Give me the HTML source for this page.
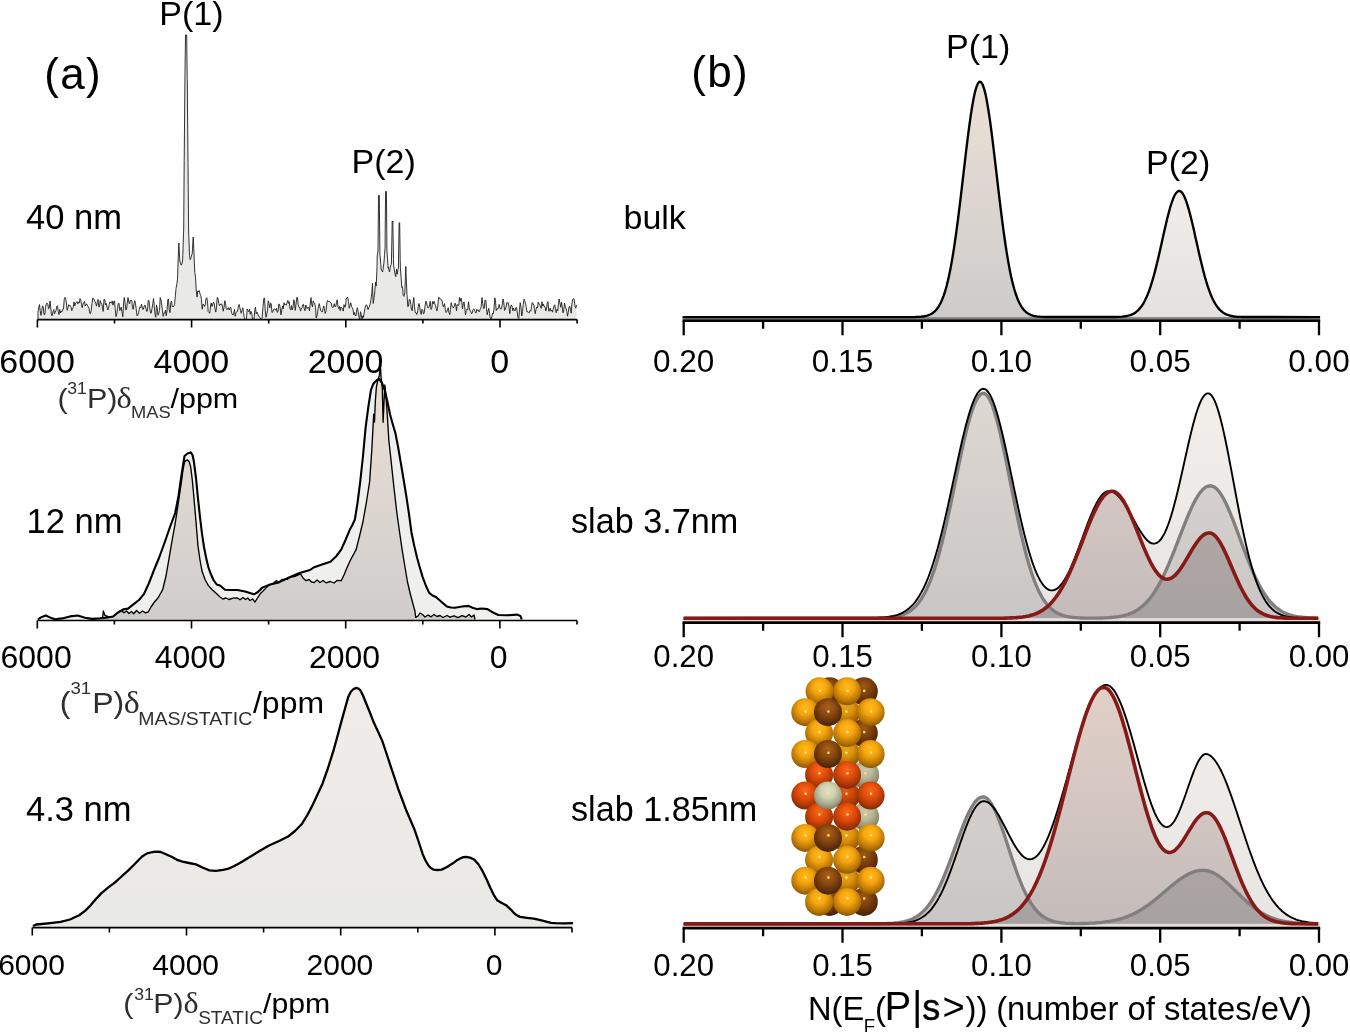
<!DOCTYPE html>
<html><head><meta charset="utf-8"><title>Figure</title>
<style>html,body{margin:0;padding:0;background:#fff}svg{display:block}text{font-family:"Liberation Sans", sans-serif}</style>
</head><body>
<svg width="1350" height="1034" viewBox="0 0 1350 1034">
<rect width="1350" height="1034" fill="#fff"/>
<defs>
<linearGradient id="gA" x1="0" y1="0" x2="0" y2="1"><stop offset="0" stop-color="#eadfd4"/><stop offset="0.5" stop-color="#ddd6d0"/><stop offset="1" stop-color="#cfcdcc"/></linearGradient>
<linearGradient id="gB" x1="0" y1="0" x2="0" y2="1"><stop offset="0" stop-color="#f0ede9"/><stop offset="1" stop-color="#e6e5e4"/></linearGradient>
<linearGradient id="gL" x1="0" y1="0" x2="0" y2="1"><stop offset="0" stop-color="#f0ece9"/><stop offset="1" stop-color="#e9e9e6"/></linearGradient>
<linearGradient id="gBlk" gradientUnits="userSpaceOnUse" x1="0" y1="0" x2="0" y2="1"><stop offset="0" stop-color="#f1eeea"/><stop offset="1" stop-color="#e9e7e6"/></linearGradient>

<radialGradient id="aY" cx="0.5" cy="0.40" r="0.66" fx="0.5" fy="0.30"><stop offset="0" stop-color="#ffba1c"/><stop offset="0.38" stop-color="#f5a50f"/><stop offset="0.72" stop-color="#bb7706"/><stop offset="1" stop-color="#744a03"/></radialGradient>
<radialGradient id="aB" cx="0.5" cy="0.40" r="0.66" fx="0.5" fy="0.30"><stop offset="0" stop-color="#ab611b"/><stop offset="0.38" stop-color="#8d4b10"/><stop offset="0.72" stop-color="#63310a"/><stop offset="1" stop-color="#3c1c05"/></radialGradient>
<radialGradient id="aR" cx="0.5" cy="0.40" r="0.66" fx="0.5" fy="0.30"><stop offset="0" stop-color="#f9681c"/><stop offset="0.38" stop-color="#e54f0a"/><stop offset="0.72" stop-color="#ad3706"/><stop offset="1" stop-color="#6c2103"/></radialGradient>
<radialGradient id="aW" cx="0.5" cy="0.40" r="0.66" fx="0.5" fy="0.30"><stop offset="0" stop-color="#e0e1c3"/><stop offset="0.38" stop-color="#d0d1b0"/><stop offset="0.72" stop-color="#a3a388"/><stop offset="1" stop-color="#6e6e58"/></radialGradient>
</defs>
<path d="M38.0,319.5 L38.0,311.8 L38.8,307.1 L39.5,304.6 L40.2,310.9 L41.0,315.4 L41.8,310.2 L42.5,306.0 L43.2,306.5 L44.0,314.6 L44.8,314.5 L45.5,307.5 L46.2,304.1 L47.0,303.1 L47.8,304.2 L48.5,308.8 L49.2,308.2 L50.0,301.0 L50.8,308.0 L51.5,315.3 L52.2,315.7 L53.0,311.5 L53.8,309.6 L54.5,313.8 L55.2,312.2 L56.0,310.4 L56.8,306.4 L57.5,305.7 L58.2,311.5 L59.0,314.6 L59.8,309.5 L60.5,313.0 L61.2,311.2 L62.0,311.8 L62.8,308.9 L63.5,309.0 L64.2,299.5 L65.0,297.5 L65.8,299.4 L66.5,304.0 L67.2,310.3 L68.0,307.3 L68.8,304.7 L69.5,305.9 L70.2,305.5 L71.0,307.1 L71.8,310.7 L72.5,308.1 L73.2,307.4 L74.0,301.9 L74.8,305.9 L75.5,303.1 L76.2,302.6 L77.0,301.4 L77.8,303.9 L78.5,302.0 L79.2,303.0 L80.0,298.6 L80.8,300.4 L81.5,304.3 L82.2,307.7 L83.0,304.0 L83.8,302.5 L84.5,301.4 L85.2,306.0 L86.0,304.3 L86.8,304.1 L87.5,306.0 L88.2,306.7 L89.0,308.0 L89.8,313.3 L90.5,313.7 L91.2,310.5 L92.0,303.5 L92.8,298.1 L93.5,298.4 L94.2,300.0 L95.0,301.7 L95.8,303.7 L96.5,306.1 L97.2,302.4 L98.0,299.4 L98.8,306.8 L99.5,306.8 L100.2,300.5 L101.0,303.2 L101.8,303.6 L102.5,307.9 L103.2,311.4 L104.0,299.3 L104.8,299.5 L105.5,304.8 L106.2,303.4 L107.0,306.6 L107.8,310.0 L108.5,308.4 L109.2,304.5 L110.0,301.8 L110.8,302.8 L111.5,303.1 L112.2,300.9 L113.0,305.2 L113.8,301.5 L114.5,300.9 L115.2,308.5 L116.0,316.6 L116.8,313.5 L117.5,308.8 L118.2,303.6 L119.0,303.2 L119.8,310.6 L120.5,309.4 L121.2,307.1 L122.0,311.8 L122.8,316.8 L123.5,305.1 L124.2,297.5 L125.0,302.2 L125.8,309.9 L126.5,309.5 L127.2,303.8 L128.0,297.5 L128.8,302.0 L129.5,304.0 L130.2,300.3 L131.0,301.1 L131.8,300.4 L132.5,307.8 L133.2,309.3 L134.0,304.0 L134.8,300.6 L135.5,303.6 L136.2,309.1 L137.0,315.9 L137.8,315.1 L138.5,312.8 L139.2,309.7 L140.0,306.8 L140.8,307.7 L141.5,304.2 L142.2,306.9 L143.0,309.6 L143.8,307.7 L144.5,305.4 L145.2,305.3 L146.0,309.0 L146.8,311.5 L147.5,310.5 L148.2,300.3 L149.0,300.7 L149.8,307.9 L150.5,312.9 L151.2,313.2 L152.0,308.5 L152.8,303.7 L153.5,298.5 L154.2,305.2 L155.0,314.0 L155.8,317.2 L156.5,304.9 L157.2,308.1 L158.0,315.2 L158.8,313.1 L159.5,310.4 L160.2,297.5 L161.0,299.8 L161.8,305.3 L162.5,311.1 L163.2,316.4 L164.0,312.8 L164.8,313.0 L165.5,310.0 L166.2,315.7 L167.0,311.0 L167.8,299.9 L168.5,298.9 L169.2,309.7 L170.0,312.7 L170.8,302.8 L171.5,301.0 L172.2,306.7 L173.0,306.6 L173.8,306.4 L174.5,304.8 L175.2,297.7 L176.0,288.6 L176.8,284.2 L177.5,279.2 L178.0,264.0 L178.2,257.9 L178.9,243.0 L179.0,245.7 L179.8,261.1 L179.8,261.0 L180.5,262.9 L181.2,265.2 L181.5,264.0 L182.0,263.8 L182.6,260.0 L182.8,255.3 L183.5,233.3 L183.7,230.0 L184.2,160.7 L184.9,83.0 L185.0,73.6 L185.5,35.0 L185.8,34.7 L186.5,35.3 L186.7,35.0 L187.2,78.7 L187.3,83.0 L188.0,162.5 L188.6,230.0 L188.8,235.5 L189.5,255.4 L189.6,256.0 L190.2,259.7 L190.5,259.0 L191.0,257.4 L191.8,254.7 L192.2,254.0 L192.5,248.8 L193.2,237.1 L193.3,238.5 L194.0,253.7 L194.3,262.0 L194.8,272.6 L195.5,277.1 L196.2,289.7 L197.0,297.1 L197.8,290.9 L198.5,291.7 L199.2,290.5 L200.0,293.9 L200.8,295.5 L201.5,299.9 L202.2,309.2 L203.0,304.1 L203.8,304.7 L204.5,306.5 L205.2,304.9 L206.0,298.8 L206.8,297.7 L207.5,301.7 L208.2,311.7 L209.0,312.6 L209.8,313.1 L210.5,306.0 L211.2,303.0 L212.0,306.5 L212.8,304.0 L213.5,302.1 L214.2,303.0 L215.0,308.8 L215.8,312.1 L216.5,306.9 L217.2,297.5 L218.0,298.2 L218.8,303.4 L219.5,305.6 L220.2,304.0 L221.0,304.6 L221.8,303.9 L222.5,307.1 L223.2,311.2 L224.0,307.2 L224.8,300.7 L225.5,303.6 L226.2,308.7 L227.0,309.7 L227.8,308.2 L228.5,307.9 L229.2,310.0 L230.0,307.7 L230.8,307.4 L231.5,312.3 L232.2,314.2 L233.0,315.0 L233.8,313.1 L234.5,309.3 L235.2,316.3 L236.0,312.5 L236.8,311.8 L237.5,311.5 L238.2,307.4 L239.0,304.4 L239.8,307.3 L240.5,310.7 L241.2,313.3 L242.0,310.2 L242.8,307.8 L243.5,312.7 L244.2,317.4 L245.0,319.1 L245.8,319.5 L246.5,318.2 L247.2,309.0 L248.0,310.4 L248.8,311.7 L249.5,309.1 L250.2,314.3 L251.0,311.4 L251.8,313.4 L252.5,319.5 L253.2,319.5 L254.0,319.4 L254.8,309.9 L255.5,307.1 L256.2,313.9 L257.0,312.1 L257.8,313.8 L258.5,316.2 L259.2,316.9 L260.0,317.4 L260.8,319.5 L261.5,319.5 L262.2,317.0 L263.0,306.7 L263.8,298.6 L264.5,297.9 L265.2,310.1 L266.0,317.3 L266.8,313.8 L267.5,310.3 L268.2,300.8 L269.0,303.6 L269.8,307.8 L270.5,303.1 L271.2,303.7 L272.0,312.6 L272.8,311.9 L273.5,309.5 L274.2,309.0 L275.0,309.2 L275.8,310.3 L276.5,308.4 L277.2,312.3 L278.0,311.7 L278.8,303.9 L279.5,304.5 L280.2,308.0 L281.0,314.9 L281.8,309.8 L282.5,306.2 L283.2,308.9 L284.0,302.7 L284.8,305.0 L285.5,304.5 L286.2,305.2 L287.0,302.7 L287.8,300.4 L288.5,303.4 L289.2,301.7 L290.0,309.2 L290.8,309.9 L291.5,305.7 L292.2,309.9 L293.0,307.2 L293.8,299.8 L294.5,301.4 L295.2,310.4 L296.0,304.4 L296.8,297.5 L297.5,297.5 L298.2,304.5 L299.0,307.5 L299.8,307.5 L300.5,311.1 L301.2,309.3 L302.0,307.5 L302.8,304.7 L303.5,304.3 L304.2,308.7 L305.0,310.8 L305.8,305.0 L306.5,307.5 L307.2,308.6 L308.0,307.0 L308.8,308.1 L309.5,310.9 L310.2,304.0 L311.0,297.6 L311.8,304.8 L312.5,306.8 L313.2,300.9 L314.0,302.4 L314.8,303.8 L315.5,307.4 L316.2,318.0 L317.0,315.9 L317.8,310.3 L318.5,306.8 L319.2,303.6 L320.0,307.3 L320.8,310.6 L321.5,311.6 L322.2,312.0 L323.0,308.8 L323.8,305.8 L324.5,310.1 L325.2,313.4 L326.0,311.2 L326.8,303.0 L327.5,300.5 L328.2,301.3 L329.0,301.5 L329.8,301.8 L330.5,302.6 L331.2,303.1 L332.0,306.9 L332.8,307.4 L333.5,307.1 L334.2,303.7 L335.0,306.6 L335.8,306.4 L336.5,302.2 L337.2,299.8 L338.0,306.7 L338.8,308.6 L339.5,306.5 L340.2,310.8 L341.0,307.0 L341.8,308.2 L342.5,308.5 L343.2,311.1 L344.0,304.6 L344.8,307.3 L345.5,306.3 L346.2,299.2 L347.0,297.5 L347.8,297.5 L348.5,301.5 L349.2,308.3 L350.0,305.7 L350.8,302.8 L351.5,306.4 L352.2,307.6 L353.0,309.5 L353.8,314.9 L354.5,312.5 L355.2,315.2 L356.0,315.8 L356.8,309.3 L357.5,307.8 L358.2,311.6 L359.0,317.2 L359.8,319.5 L360.5,311.7 L361.2,314.6 L362.0,319.2 L362.8,315.8 L363.5,317.3 L364.2,312.8 L365.0,308.1 L365.8,305.6 L366.5,304.7 L367.2,306.1 L368.0,309.6 L368.8,307.7 L369.5,305.9 L370.2,303.9 L371.0,299.4 L371.8,293.1 L372.5,283.3 L373.2,303.5 L374.0,298.1 L374.8,291.9 L375.5,282.1 L376.2,286.1 L377.0,267.8 L377.2,256.0 L377.8,252.2 L378.0,250.0 L378.5,195.7 L378.5,196.0 L379.2,195.2 L379.3,196.0 L379.9,254.0 L380.0,255.4 L380.8,264.2 L381.2,270.0 L381.5,270.0 L382.2,271.2 L382.6,272.0 L383.0,269.4 L383.8,263.8 L384.3,258.0 L384.5,254.5 L385.1,248.0 L385.2,229.3 L385.6,191.4 L386.0,191.0 L386.4,191.4 L386.8,233.2 L386.9,250.0 L387.5,258.2 L388.2,268.0 L388.2,267.4 L389.0,269.9 L389.5,272.0 L389.8,269.9 L390.5,266.0 L391.2,264.5 L391.4,264.0 L392.0,232.2 L392.2,221.0 L392.8,222.1 L392.8,221.0 L393.5,259.4 L393.6,264.0 L394.2,269.0 L395.0,274.2 L395.8,276.7 L396.5,269.2 L397.2,274.2 L398.0,269.3 L398.4,268.0 L398.8,243.0 L399.1,223.0 L399.5,222.6 L399.7,223.0 L400.2,259.6 L400.4,268.0 L401.0,276.0 L401.8,287.4 L402.5,286.7 L403.2,295.4 L404.0,296.4 L404.8,292.8 L405.5,273.8 L405.8,266.4 L406.2,277.4 L407.0,294.6 L407.8,306.7 L408.5,306.1 L409.2,299.5 L410.0,299.8 L410.8,304.6 L411.5,310.0 L412.2,310.7 L413.0,303.1 L413.8,297.5 L414.5,306.6 L415.2,312.7 L416.0,312.5 L416.8,314.5 L417.5,312.9 L418.2,306.8 L419.0,303.5 L419.8,307.4 L420.5,312.7 L421.2,314.4 L422.0,309.2 L422.8,310.3 L423.5,313.9 L424.2,312.8 L425.0,306.4 L425.8,301.2 L426.5,302.0 L427.2,306.2 L428.0,308.1 L428.8,307.4 L429.5,304.9 L430.2,301.2 L431.0,309.5 L431.8,308.2 L432.5,301.6 L433.2,303.8 L434.0,301.3 L434.8,303.8 L435.5,305.5 L436.2,308.4 L437.0,310.8 L437.8,306.2 L438.5,297.5 L439.2,297.5 L440.0,299.2 L440.8,299.1 L441.5,299.8 L442.2,301.1 L443.0,306.3 L443.8,306.6 L444.5,303.6 L445.2,309.0 L446.0,312.5 L446.8,311.6 L447.5,310.0 L448.2,307.7 L449.0,312.6 L449.8,314.6 L450.5,309.3 L451.2,302.7 L452.0,306.2 L452.8,307.0 L453.5,308.0 L454.2,306.2 L455.0,303.1 L455.8,305.1 L456.5,310.8 L457.2,304.5 L458.0,305.6 L458.8,305.1 L459.5,297.5 L460.2,301.2 L461.0,298.1 L461.8,301.9 L462.5,308.9 L463.2,303.8 L464.0,302.0 L464.8,308.0 L465.5,315.0 L466.2,310.7 L467.0,309.2 L467.8,309.8 L468.5,301.8 L469.2,307.4 L470.0,310.8 L470.8,311.4 L471.5,313.7 L472.2,313.2 L473.0,309.5 L473.8,308.9 L474.5,310.1 L475.2,311.7 L476.0,313.1 L476.8,309.3 L477.5,310.6 L478.2,310.0 L479.0,311.9 L479.8,310.3 L480.5,308.5 L481.2,306.5 L482.0,297.5 L482.8,303.8 L483.5,308.4 L484.2,308.4 L485.0,300.0 L485.8,300.3 L486.5,308.5 L487.2,314.8 L488.0,311.0 L488.8,308.3 L489.5,313.6 L490.2,317.5 L491.0,319.1 L491.8,316.8 L492.5,313.2 L493.2,314.0 L494.0,308.9 L494.8,297.8 L495.5,300.9 L496.2,310.6 L497.0,308.7 L497.8,309.2 L498.5,307.7 L499.2,304.4 L500.0,308.1 L500.8,309.2 L501.5,308.0 L502.2,305.0 L503.0,299.0 L503.8,302.6 L504.5,310.4 L505.2,309.8 L506.0,306.9 L506.8,302.7 L507.5,302.8 L508.2,302.6 L509.0,307.4 L509.8,313.7 L510.5,307.2 L511.2,304.9 L512.0,306.2 L512.8,310.7 L513.5,308.0 L514.2,310.4 L515.0,310.9 L515.8,307.7 L516.5,307.3 L517.2,311.9 L518.0,317.6 L518.8,318.4 L519.5,309.8 L520.2,302.7 L521.0,307.6 L521.8,315.9 L522.5,311.7 L523.2,304.7 L524.0,299.2 L524.8,300.7 L525.5,303.9 L526.2,306.6 L527.0,312.0 L527.8,311.8 L528.5,312.4 L529.2,312.9 L530.0,310.4 L530.8,311.2 L531.5,306.7 L532.2,302.5 L533.0,303.5 L533.8,305.3 L534.5,309.5 L535.2,313.7 L536.0,309.4 L536.8,306.9 L537.5,308.0 L538.2,302.2 L539.0,304.0 L539.8,304.5 L540.5,306.9 L541.2,308.4 L542.0,301.7 L542.8,306.1 L543.5,304.2 L544.2,306.5 L545.0,306.8 L545.8,310.9 L546.5,308.8 L547.2,303.1 L548.0,301.7 L548.8,311.2 L549.5,310.9 L550.2,308.0 L551.0,311.1 L551.8,310.2 L552.5,312.2 L553.2,309.3 L554.0,305.9 L554.8,304.8 L555.5,309.1 L556.2,312.8 L557.0,309.2 L557.8,310.6 L558.5,302.8 L559.2,299.0 L560.0,303.6 L560.8,307.2 L561.5,302.1 L562.2,306.7 L563.0,312.8 L563.8,309.8 L564.5,303.1 L565.2,306.3 L566.0,308.3 L566.8,311.3 L567.5,316.2 L568.2,312.7 L569.0,307.1 L569.8,306.3 L570.5,309.6 L571.2,313.2 L572.0,302.8 L572.8,299.2 L573.5,298.4 L574.2,299.7 L575.0,306.1 L575.8,308.2 L576.5,304.9 L576.5,319.5 L38.0,319.5 Z" fill="#e9e9e7" stroke="none"/>
<path d="M38.0,319.5 L38.0,311.8 L38.8,307.1 L39.5,304.6 L40.2,310.9 L41.0,315.4 L41.8,310.2 L42.5,306.0 L43.2,306.5 L44.0,314.6 L44.8,314.5 L45.5,307.5 L46.2,304.1 L47.0,303.1 L47.8,304.2 L48.5,308.8 L49.2,308.2 L50.0,301.0 L50.8,308.0 L51.5,315.3 L52.2,315.7 L53.0,311.5 L53.8,309.6 L54.5,313.8 L55.2,312.2 L56.0,310.4 L56.8,306.4 L57.5,305.7 L58.2,311.5 L59.0,314.6 L59.8,309.5 L60.5,313.0 L61.2,311.2 L62.0,311.8 L62.8,308.9 L63.5,309.0 L64.2,299.5 L65.0,297.5 L65.8,299.4 L66.5,304.0 L67.2,310.3 L68.0,307.3 L68.8,304.7 L69.5,305.9 L70.2,305.5 L71.0,307.1 L71.8,310.7 L72.5,308.1 L73.2,307.4 L74.0,301.9 L74.8,305.9 L75.5,303.1 L76.2,302.6 L77.0,301.4 L77.8,303.9 L78.5,302.0 L79.2,303.0 L80.0,298.6 L80.8,300.4 L81.5,304.3 L82.2,307.7 L83.0,304.0 L83.8,302.5 L84.5,301.4 L85.2,306.0 L86.0,304.3 L86.8,304.1 L87.5,306.0 L88.2,306.7 L89.0,308.0 L89.8,313.3 L90.5,313.7 L91.2,310.5 L92.0,303.5 L92.8,298.1 L93.5,298.4 L94.2,300.0 L95.0,301.7 L95.8,303.7 L96.5,306.1 L97.2,302.4 L98.0,299.4 L98.8,306.8 L99.5,306.8 L100.2,300.5 L101.0,303.2 L101.8,303.6 L102.5,307.9 L103.2,311.4 L104.0,299.3 L104.8,299.5 L105.5,304.8 L106.2,303.4 L107.0,306.6 L107.8,310.0 L108.5,308.4 L109.2,304.5 L110.0,301.8 L110.8,302.8 L111.5,303.1 L112.2,300.9 L113.0,305.2 L113.8,301.5 L114.5,300.9 L115.2,308.5 L116.0,316.6 L116.8,313.5 L117.5,308.8 L118.2,303.6 L119.0,303.2 L119.8,310.6 L120.5,309.4 L121.2,307.1 L122.0,311.8 L122.8,316.8 L123.5,305.1 L124.2,297.5 L125.0,302.2 L125.8,309.9 L126.5,309.5 L127.2,303.8 L128.0,297.5 L128.8,302.0 L129.5,304.0 L130.2,300.3 L131.0,301.1 L131.8,300.4 L132.5,307.8 L133.2,309.3 L134.0,304.0 L134.8,300.6 L135.5,303.6 L136.2,309.1 L137.0,315.9 L137.8,315.1 L138.5,312.8 L139.2,309.7 L140.0,306.8 L140.8,307.7 L141.5,304.2 L142.2,306.9 L143.0,309.6 L143.8,307.7 L144.5,305.4 L145.2,305.3 L146.0,309.0 L146.8,311.5 L147.5,310.5 L148.2,300.3 L149.0,300.7 L149.8,307.9 L150.5,312.9 L151.2,313.2 L152.0,308.5 L152.8,303.7 L153.5,298.5 L154.2,305.2 L155.0,314.0 L155.8,317.2 L156.5,304.9 L157.2,308.1 L158.0,315.2 L158.8,313.1 L159.5,310.4 L160.2,297.5 L161.0,299.8 L161.8,305.3 L162.5,311.1 L163.2,316.4 L164.0,312.8 L164.8,313.0 L165.5,310.0 L166.2,315.7 L167.0,311.0 L167.8,299.9 L168.5,298.9 L169.2,309.7 L170.0,312.7 L170.8,302.8 L171.5,301.0 L172.2,306.7 L173.0,306.6 L173.8,306.4 L174.5,304.8 L175.2,297.7 L176.0,288.6 L176.8,284.2 L177.5,279.2 L178.0,264.0 L178.2,257.9 L178.9,243.0 L179.0,245.7 L179.8,261.1 L179.8,261.0 L180.5,262.9 L181.2,265.2 L181.5,264.0 L182.0,263.8 L182.6,260.0 L182.8,255.3 L183.5,233.3 L183.7,230.0 L184.2,160.7 L184.9,83.0 L185.0,73.6 L185.5,35.0 L185.8,34.7 L186.5,35.3 L186.7,35.0 L187.2,78.7 L187.3,83.0 L188.0,162.5 L188.6,230.0 L188.8,235.5 L189.5,255.4 L189.6,256.0 L190.2,259.7 L190.5,259.0 L191.0,257.4 L191.8,254.7 L192.2,254.0 L192.5,248.8 L193.2,237.1 L193.3,238.5 L194.0,253.7 L194.3,262.0 L194.8,272.6 L195.5,277.1 L196.2,289.7 L197.0,297.1 L197.8,290.9 L198.5,291.7 L199.2,290.5 L200.0,293.9 L200.8,295.5 L201.5,299.9 L202.2,309.2 L203.0,304.1 L203.8,304.7 L204.5,306.5 L205.2,304.9 L206.0,298.8 L206.8,297.7 L207.5,301.7 L208.2,311.7 L209.0,312.6 L209.8,313.1 L210.5,306.0 L211.2,303.0 L212.0,306.5 L212.8,304.0 L213.5,302.1 L214.2,303.0 L215.0,308.8 L215.8,312.1 L216.5,306.9 L217.2,297.5 L218.0,298.2 L218.8,303.4 L219.5,305.6 L220.2,304.0 L221.0,304.6 L221.8,303.9 L222.5,307.1 L223.2,311.2 L224.0,307.2 L224.8,300.7 L225.5,303.6 L226.2,308.7 L227.0,309.7 L227.8,308.2 L228.5,307.9 L229.2,310.0 L230.0,307.7 L230.8,307.4 L231.5,312.3 L232.2,314.2 L233.0,315.0 L233.8,313.1 L234.5,309.3 L235.2,316.3 L236.0,312.5 L236.8,311.8 L237.5,311.5 L238.2,307.4 L239.0,304.4 L239.8,307.3 L240.5,310.7 L241.2,313.3 L242.0,310.2 L242.8,307.8 L243.5,312.7 L244.2,317.4 L245.0,319.1 L245.8,319.5 L246.5,318.2 L247.2,309.0 L248.0,310.4 L248.8,311.7 L249.5,309.1 L250.2,314.3 L251.0,311.4 L251.8,313.4 L252.5,319.5 L253.2,319.5 L254.0,319.4 L254.8,309.9 L255.5,307.1 L256.2,313.9 L257.0,312.1 L257.8,313.8 L258.5,316.2 L259.2,316.9 L260.0,317.4 L260.8,319.5 L261.5,319.5 L262.2,317.0 L263.0,306.7 L263.8,298.6 L264.5,297.9 L265.2,310.1 L266.0,317.3 L266.8,313.8 L267.5,310.3 L268.2,300.8 L269.0,303.6 L269.8,307.8 L270.5,303.1 L271.2,303.7 L272.0,312.6 L272.8,311.9 L273.5,309.5 L274.2,309.0 L275.0,309.2 L275.8,310.3 L276.5,308.4 L277.2,312.3 L278.0,311.7 L278.8,303.9 L279.5,304.5 L280.2,308.0 L281.0,314.9 L281.8,309.8 L282.5,306.2 L283.2,308.9 L284.0,302.7 L284.8,305.0 L285.5,304.5 L286.2,305.2 L287.0,302.7 L287.8,300.4 L288.5,303.4 L289.2,301.7 L290.0,309.2 L290.8,309.9 L291.5,305.7 L292.2,309.9 L293.0,307.2 L293.8,299.8 L294.5,301.4 L295.2,310.4 L296.0,304.4 L296.8,297.5 L297.5,297.5 L298.2,304.5 L299.0,307.5 L299.8,307.5 L300.5,311.1 L301.2,309.3 L302.0,307.5 L302.8,304.7 L303.5,304.3 L304.2,308.7 L305.0,310.8 L305.8,305.0 L306.5,307.5 L307.2,308.6 L308.0,307.0 L308.8,308.1 L309.5,310.9 L310.2,304.0 L311.0,297.6 L311.8,304.8 L312.5,306.8 L313.2,300.9 L314.0,302.4 L314.8,303.8 L315.5,307.4 L316.2,318.0 L317.0,315.9 L317.8,310.3 L318.5,306.8 L319.2,303.6 L320.0,307.3 L320.8,310.6 L321.5,311.6 L322.2,312.0 L323.0,308.8 L323.8,305.8 L324.5,310.1 L325.2,313.4 L326.0,311.2 L326.8,303.0 L327.5,300.5 L328.2,301.3 L329.0,301.5 L329.8,301.8 L330.5,302.6 L331.2,303.1 L332.0,306.9 L332.8,307.4 L333.5,307.1 L334.2,303.7 L335.0,306.6 L335.8,306.4 L336.5,302.2 L337.2,299.8 L338.0,306.7 L338.8,308.6 L339.5,306.5 L340.2,310.8 L341.0,307.0 L341.8,308.2 L342.5,308.5 L343.2,311.1 L344.0,304.6 L344.8,307.3 L345.5,306.3 L346.2,299.2 L347.0,297.5 L347.8,297.5 L348.5,301.5 L349.2,308.3 L350.0,305.7 L350.8,302.8 L351.5,306.4 L352.2,307.6 L353.0,309.5 L353.8,314.9 L354.5,312.5 L355.2,315.2 L356.0,315.8 L356.8,309.3 L357.5,307.8 L358.2,311.6 L359.0,317.2 L359.8,319.5 L360.5,311.7 L361.2,314.6 L362.0,319.2 L362.8,315.8 L363.5,317.3 L364.2,312.8 L365.0,308.1 L365.8,305.6 L366.5,304.7 L367.2,306.1 L368.0,309.6 L368.8,307.7 L369.5,305.9 L370.2,303.9 L371.0,299.4 L371.8,293.1 L372.5,283.3 L373.2,303.5 L374.0,298.1 L374.8,291.9 L375.5,282.1 L376.2,286.1 L377.0,267.8 L377.2,256.0 L377.8,252.2 L378.0,250.0 L378.5,195.7 L378.5,196.0 L379.2,195.2 L379.3,196.0 L379.9,254.0 L380.0,255.4 L380.8,264.2 L381.2,270.0 L381.5,270.0 L382.2,271.2 L382.6,272.0 L383.0,269.4 L383.8,263.8 L384.3,258.0 L384.5,254.5 L385.1,248.0 L385.2,229.3 L385.6,191.4 L386.0,191.0 L386.4,191.4 L386.8,233.2 L386.9,250.0 L387.5,258.2 L388.2,268.0 L388.2,267.4 L389.0,269.9 L389.5,272.0 L389.8,269.9 L390.5,266.0 L391.2,264.5 L391.4,264.0 L392.0,232.2 L392.2,221.0 L392.8,222.1 L392.8,221.0 L393.5,259.4 L393.6,264.0 L394.2,269.0 L395.0,274.2 L395.8,276.7 L396.5,269.2 L397.2,274.2 L398.0,269.3 L398.4,268.0 L398.8,243.0 L399.1,223.0 L399.5,222.6 L399.7,223.0 L400.2,259.6 L400.4,268.0 L401.0,276.0 L401.8,287.4 L402.5,286.7 L403.2,295.4 L404.0,296.4 L404.8,292.8 L405.5,273.8 L405.8,266.4 L406.2,277.4 L407.0,294.6 L407.8,306.7 L408.5,306.1 L409.2,299.5 L410.0,299.8 L410.8,304.6 L411.5,310.0 L412.2,310.7 L413.0,303.1 L413.8,297.5 L414.5,306.6 L415.2,312.7 L416.0,312.5 L416.8,314.5 L417.5,312.9 L418.2,306.8 L419.0,303.5 L419.8,307.4 L420.5,312.7 L421.2,314.4 L422.0,309.2 L422.8,310.3 L423.5,313.9 L424.2,312.8 L425.0,306.4 L425.8,301.2 L426.5,302.0 L427.2,306.2 L428.0,308.1 L428.8,307.4 L429.5,304.9 L430.2,301.2 L431.0,309.5 L431.8,308.2 L432.5,301.6 L433.2,303.8 L434.0,301.3 L434.8,303.8 L435.5,305.5 L436.2,308.4 L437.0,310.8 L437.8,306.2 L438.5,297.5 L439.2,297.5 L440.0,299.2 L440.8,299.1 L441.5,299.8 L442.2,301.1 L443.0,306.3 L443.8,306.6 L444.5,303.6 L445.2,309.0 L446.0,312.5 L446.8,311.6 L447.5,310.0 L448.2,307.7 L449.0,312.6 L449.8,314.6 L450.5,309.3 L451.2,302.7 L452.0,306.2 L452.8,307.0 L453.5,308.0 L454.2,306.2 L455.0,303.1 L455.8,305.1 L456.5,310.8 L457.2,304.5 L458.0,305.6 L458.8,305.1 L459.5,297.5 L460.2,301.2 L461.0,298.1 L461.8,301.9 L462.5,308.9 L463.2,303.8 L464.0,302.0 L464.8,308.0 L465.5,315.0 L466.2,310.7 L467.0,309.2 L467.8,309.8 L468.5,301.8 L469.2,307.4 L470.0,310.8 L470.8,311.4 L471.5,313.7 L472.2,313.2 L473.0,309.5 L473.8,308.9 L474.5,310.1 L475.2,311.7 L476.0,313.1 L476.8,309.3 L477.5,310.6 L478.2,310.0 L479.0,311.9 L479.8,310.3 L480.5,308.5 L481.2,306.5 L482.0,297.5 L482.8,303.8 L483.5,308.4 L484.2,308.4 L485.0,300.0 L485.8,300.3 L486.5,308.5 L487.2,314.8 L488.0,311.0 L488.8,308.3 L489.5,313.6 L490.2,317.5 L491.0,319.1 L491.8,316.8 L492.5,313.2 L493.2,314.0 L494.0,308.9 L494.8,297.8 L495.5,300.9 L496.2,310.6 L497.0,308.7 L497.8,309.2 L498.5,307.7 L499.2,304.4 L500.0,308.1 L500.8,309.2 L501.5,308.0 L502.2,305.0 L503.0,299.0 L503.8,302.6 L504.5,310.4 L505.2,309.8 L506.0,306.9 L506.8,302.7 L507.5,302.8 L508.2,302.6 L509.0,307.4 L509.8,313.7 L510.5,307.2 L511.2,304.9 L512.0,306.2 L512.8,310.7 L513.5,308.0 L514.2,310.4 L515.0,310.9 L515.8,307.7 L516.5,307.3 L517.2,311.9 L518.0,317.6 L518.8,318.4 L519.5,309.8 L520.2,302.7 L521.0,307.6 L521.8,315.9 L522.5,311.7 L523.2,304.7 L524.0,299.2 L524.8,300.7 L525.5,303.9 L526.2,306.6 L527.0,312.0 L527.8,311.8 L528.5,312.4 L529.2,312.9 L530.0,310.4 L530.8,311.2 L531.5,306.7 L532.2,302.5 L533.0,303.5 L533.8,305.3 L534.5,309.5 L535.2,313.7 L536.0,309.4 L536.8,306.9 L537.5,308.0 L538.2,302.2 L539.0,304.0 L539.8,304.5 L540.5,306.9 L541.2,308.4 L542.0,301.7 L542.8,306.1 L543.5,304.2 L544.2,306.5 L545.0,306.8 L545.8,310.9 L546.5,308.8 L547.2,303.1 L548.0,301.7 L548.8,311.2 L549.5,310.9 L550.2,308.0 L551.0,311.1 L551.8,310.2 L552.5,312.2 L553.2,309.3 L554.0,305.9 L554.8,304.8 L555.5,309.1 L556.2,312.8 L557.0,309.2 L557.8,310.6 L558.5,302.8 L559.2,299.0 L560.0,303.6 L560.8,307.2 L561.5,302.1 L562.2,306.7 L563.0,312.8 L563.8,309.8 L564.5,303.1 L565.2,306.3 L566.0,308.3 L566.8,311.3 L567.5,316.2 L568.2,312.7 L569.0,307.1 L569.8,306.3 L570.5,309.6 L571.2,313.2 L572.0,302.8 L572.8,299.2 L573.5,298.4 L574.2,299.7 L575.0,306.1 L575.8,308.2 L576.5,304.9" fill="none" stroke="#1c1c1c" stroke-width="0.9" stroke-linejoin="bevel"/>
<path d="M37.4,319.6 H577.1" stroke="#000" stroke-width="1.6" fill="none"/>
<path d="M37.4,319.6 v8 M114.5,319.6 v4 M191.6,319.6 v8 M268.7,319.6 v4 M345.8,319.6 v8 M422.9,319.6 v4 M500.0,319.6 v8 M577.1,319.6 v4 " stroke="#000" stroke-width="1.6" fill="none"/>
<text x="37.1" y="372.5" font-size="34" text-anchor="middle" fill="#000" >6000</text>
<text x="191.3" y="372.5" font-size="34" text-anchor="middle" fill="#000" >4000</text>
<text x="345.5" y="372.5" font-size="34" text-anchor="middle" fill="#000" >2000</text>
<text x="499.7" y="372.5" font-size="34" text-anchor="middle" fill="#000" >0</text>
<defs><linearGradient id="g2" gradientUnits="userSpaceOnUse" x1="0" y1="370" x2="0" y2="620"><stop offset="0" stop-color="#ebdfd3"/><stop offset="0.5" stop-color="#ded7d1"/><stop offset="1" stop-color="#cfcdcc"/></linearGradient></defs>
<path d="M38.0,619.3 L41.0,617.4 L45.6,615.5 L50.0,617.4 L55.0,619.2 L62.0,618.4 L70.0,616.4 L77.7,615.5 L85.0,617.7 L92.0,618.9 L100.0,618.4 L106.0,617.7 L113.0,616.5 L118.0,612.5 L123.3,609.4 L128.0,608.6 L133.7,604.2 L139.0,600.0 L144.0,593.9 L149.0,583.0 L154.4,569.0 L159.0,558.0 L164.8,542.0 L170.0,527.0 L175.2,513.0 L178.5,496.0 L181.4,475.6 L184.5,456.0 L187.5,453.5 L190.7,452.4 L192.5,455.0 L193.8,461.0 L196.0,478.0 L198.0,498.4 L200.0,517.0 L202.0,533.7 L204.0,547.0 L206.3,558.6 L208.3,567.0 L210.4,573.0 L213.5,580.0 L216.7,584.5 L220.0,585.5 L225.0,589.7 L231.0,590.0 L237.4,590.0 L245.0,591.5 L254.0,594.3 L258.0,592.0 L262.3,587.6 L270.0,584.5 L278.9,582.4 L289.0,577.5 L299.6,573.0 L310.0,570.0 L314.2,567.2 L322.0,564.5 L330.4,561.7 L336.0,556.5 L341.2,549.6 L345.5,540.0 L349.4,530.6 L352.3,525.0 L354.8,519.8 L357.5,503.0 L360.2,481.9 L363.0,456.0 L365.6,427.7 L368.3,407.0 L371.0,389.8 L373.0,384.5 L375.1,381.7 L377.0,380.0 L379.1,379.0 L381.8,382.5 L384.6,389.8 L387.3,401.0 L390.0,414.2 L392.7,424.0 L395.4,433.1 L398.1,447.0 L400.8,462.9 L403.5,479.0 L406.2,495.4 L409.0,514.0 L411.6,533.3 L414.3,546.0 L417.1,557.7 L419.8,567.5 L422.5,576.6 L426.0,586.0 L429.2,592.9 L432.5,595.5 L436.0,597.0 L441.0,601.5 L446.8,606.4 L451.0,607.5 L455.0,607.8 L462.0,606.5 L468.5,605.9 L472.5,607.8 L476.6,609.1 L482.0,608.5 L487.5,609.1 L493.0,612.5 L498.3,615.0 L507.0,615.3 L517.2,614.6 L520.5,616.0 L521.8,619.5 L521.8,620.0 L38.0,620.0 Z" fill="#efefee" stroke="none"/>
<path d="M102.6,617.7 L103.3,611.0 L105.0,615.5 L109.0,617.0 L113.0,616.7 L117.0,613.0 L121.3,610.4 L124.0,612.8 L126.5,611.0 L129.0,613.5 L131.5,611.5 L133.7,613.8 L136.5,610.5 L139.5,613.2 L142.5,611.0 L145.5,612.8 L148.2,612.0 L151.0,607.0 L154.4,602.0 L158.0,598.0 L162.7,589.7 L166.0,576.0 L169.0,558.6 L172.0,541.0 L175.2,523.3 L178.3,503.0 L181.4,481.8 L183.0,470.0 L184.5,462.0 L186.0,460.5 L187.6,460.0 L189.3,462.0 L190.7,467.0 L192.3,480.0 L193.8,496.4 L196.0,522.0 L198.0,546.0 L200.0,560.0 L202.0,571.0 L205.0,579.5 L208.4,585.6 L212.5,590.0 L216.7,593.8 L220.0,597.0 L222.9,599.0 L226.0,598.0 L229.0,599.5 L233.0,598.2 L237.4,598.0 L240.0,599.8 L243.0,597.5 L245.5,599.5 L247.8,598.0 L250.0,600.5 L252.5,599.0 L255.0,602.0 L257.5,598.0 L260.2,593.8 L264.0,590.0 L268.5,585.5 L273.0,583.5 L276.2,580.7 L279.0,582.0 L282.0,579.5 L287.0,579.3 L291.0,577.0 L295.0,576.3 L300.6,573.9 L303.0,578.0 L306.0,580.7 L309.0,579.5 L311.5,582.0 L314.2,582.6 L317.0,580.0 L320.0,582.5 L323.0,580.5 L326.0,582.8 L330.4,581.5 L334.0,583.0 L337.0,580.5 L341.2,580.7 L344.0,575.0 L346.6,568.5 L350.5,560.0 L356.1,549.6 L359.3,537.0 L362.8,522.5 L366.3,503.0 L369.6,481.9 L371.8,450.0 L373.7,414.2 L374.5,422.0 L375.3,402.0 L376.4,387.0 L377.8,380.0 L379.3,376.0 L380.4,365.4 L381.1,378.0 L382.3,388.0 L383.1,422.3 L384.1,400.0 L384.9,385.0 L385.9,395.2 L387.3,415.0 L388.8,440.0 L391.3,462.9 L394.0,488.0 L396.7,511.6 L399.4,531.0 L402.1,549.6 L404.8,566.0 L407.5,582.0 L410.3,594.0 L412.9,603.7 L414.9,611.0 L415.7,617.3 L418.0,616.0 L420.0,613.0 L422.5,614.5 L425.0,617.0 L428.0,615.0 L431.0,616.8 L434.0,614.5 L437.0,616.5 L440.0,615.5 L443.0,617.5 L447.0,615.5 L450.0,617.2 L454.0,615.8 L458.0,617.6 L462.0,615.6 L466.0,617.0 L469.0,614.5 L471.5,617.0 L474.0,615.0 L475.0,619.5 L475.0,620.0 L102.6,620.0 Z" fill="url(#g2)" stroke="none"/>
<path d="M102.6,617.7 L103.3,611.0 L105.0,615.5 L109.0,617.0 L113.0,616.7 L117.0,613.0 L121.3,610.4 L124.0,612.8 L126.5,611.0 L129.0,613.5 L131.5,611.5 L133.7,613.8 L136.5,610.5 L139.5,613.2 L142.5,611.0 L145.5,612.8 L148.2,612.0 L151.0,607.0 L154.4,602.0 L158.0,598.0 L162.7,589.7 L166.0,576.0 L169.0,558.6 L172.0,541.0 L175.2,523.3 L178.3,503.0 L181.4,481.8 L183.0,470.0 L184.5,462.0 L186.0,460.5 L187.6,460.0 L189.3,462.0 L190.7,467.0 L192.3,480.0 L193.8,496.4 L196.0,522.0 L198.0,546.0 L200.0,560.0 L202.0,571.0 L205.0,579.5 L208.4,585.6 L212.5,590.0 L216.7,593.8 L220.0,597.0 L222.9,599.0 L226.0,598.0 L229.0,599.5 L233.0,598.2 L237.4,598.0 L240.0,599.8 L243.0,597.5 L245.5,599.5 L247.8,598.0 L250.0,600.5 L252.5,599.0 L255.0,602.0 L257.5,598.0 L260.2,593.8 L264.0,590.0 L268.5,585.5 L273.0,583.5 L276.2,580.7 L279.0,582.0 L282.0,579.5 L287.0,579.3 L291.0,577.0 L295.0,576.3 L300.6,573.9 L303.0,578.0 L306.0,580.7 L309.0,579.5 L311.5,582.0 L314.2,582.6 L317.0,580.0 L320.0,582.5 L323.0,580.5 L326.0,582.8 L330.4,581.5 L334.0,583.0 L337.0,580.5 L341.2,580.7 L344.0,575.0 L346.6,568.5 L350.5,560.0 L356.1,549.6 L359.3,537.0 L362.8,522.5 L366.3,503.0 L369.6,481.9 L371.8,450.0 L373.7,414.2 L374.5,422.0 L375.3,402.0 L376.4,387.0 L377.8,380.0 L379.3,376.0 L380.4,365.4 L381.1,378.0 L382.3,388.0 L383.1,422.3 L384.1,400.0 L384.9,385.0 L385.9,395.2 L387.3,415.0 L388.8,440.0 L391.3,462.9 L394.0,488.0 L396.7,511.6 L399.4,531.0 L402.1,549.6 L404.8,566.0 L407.5,582.0 L410.3,594.0 L412.9,603.7 L414.9,611.0 L415.7,617.3 L418.0,616.0 L420.0,613.0 L422.5,614.5 L425.0,617.0 L428.0,615.0 L431.0,616.8 L434.0,614.5 L437.0,616.5 L440.0,615.5 L443.0,617.5 L447.0,615.5 L450.0,617.2 L454.0,615.8 L458.0,617.6 L462.0,615.6 L466.0,617.0 L469.0,614.5 L471.5,617.0 L474.0,615.0 L475.0,619.5" fill="none" stroke="#000" stroke-width="1.35" stroke-linejoin="round"/>
<path d="M38.0,619.3 L41.0,617.4 L45.6,615.5 L50.0,617.4 L55.0,619.2 L62.0,618.4 L70.0,616.4 L77.7,615.5 L85.0,617.7 L92.0,618.9 L100.0,618.4 L106.0,617.7 L113.0,616.5 L118.0,612.5 L123.3,609.4 L128.0,608.6 L133.7,604.2 L139.0,600.0 L144.0,593.9 L149.0,583.0 L154.4,569.0 L159.0,558.0 L164.8,542.0 L170.0,527.0 L175.2,513.0 L178.5,496.0 L181.4,475.6 L184.5,456.0 L187.5,453.5 L190.7,452.4 L192.5,455.0 L193.8,461.0 L196.0,478.0 L198.0,498.4 L200.0,517.0 L202.0,533.7 L204.0,547.0 L206.3,558.6 L208.3,567.0 L210.4,573.0 L213.5,580.0 L216.7,584.5 L220.0,585.5 L225.0,589.7 L231.0,590.0 L237.4,590.0 L245.0,591.5 L254.0,594.3 L258.0,592.0 L262.3,587.6 L270.0,584.5 L278.9,582.4 L289.0,577.5 L299.6,573.0 L310.0,570.0 L314.2,567.2 L322.0,564.5 L330.4,561.7 L336.0,556.5 L341.2,549.6 L345.5,540.0 L349.4,530.6 L352.3,525.0 L354.8,519.8 L357.5,503.0 L360.2,481.9 L363.0,456.0 L365.6,427.7 L368.3,407.0 L371.0,389.8 L373.0,384.5 L375.1,381.7 L377.0,380.0 L379.1,379.0 L381.8,382.5 L384.6,389.8 L387.3,401.0 L390.0,414.2 L392.7,424.0 L395.4,433.1 L398.1,447.0 L400.8,462.9 L403.5,479.0 L406.2,495.4 L409.0,514.0 L411.6,533.3 L414.3,546.0 L417.1,557.7 L419.8,567.5 L422.5,576.6 L426.0,586.0 L429.2,592.9 L432.5,595.5 L436.0,597.0 L441.0,601.5 L446.8,606.4 L451.0,607.5 L455.0,607.8 L462.0,606.5 L468.5,605.9 L472.5,607.8 L476.6,609.1 L482.0,608.5 L487.5,609.1 L493.0,612.5 L498.3,615.0 L507.0,615.3 L517.2,614.6 L520.5,616.0 L521.8,619.5" fill="none" stroke="#000" stroke-width="2.1" stroke-linejoin="round"/>
<path d="M37.3,620.5 H577.0" stroke="#000" stroke-width="1.6" fill="none"/>
<path d="M37.3,620.5 v8 M114.4,620.5 v4 M191.5,620.5 v8 M268.6,620.5 v4 M345.7,620.5 v8 M422.8,620.5 v4 M499.9,620.5 v8 M577.0,620.5 v4 " stroke="#000" stroke-width="1.6" fill="none"/>
<text x="36.1" y="668.2" font-size="32" text-anchor="middle" fill="#000" >6000</text>
<text x="190.3" y="668.2" font-size="32" text-anchor="middle" fill="#000" >4000</text>
<text x="344.5" y="668.2" font-size="32" text-anchor="middle" fill="#000" >2000</text>
<text x="498.7" y="668.2" font-size="32" text-anchor="middle" fill="#000" >0</text>
<path d="M33.0,926.0 L36.2,924.5 L48.0,923.3 L60.6,921.8 L70.0,919.5 L79.6,915.0 L85.0,910.8 L90.4,905.6 L95.5,899.5 L101.2,893.4 L108.0,887.6 L114.8,882.6 L121.5,876.5 L128.3,870.4 L135.0,863.8 L141.8,856.8 L147.0,853.4 L152.7,852.0 L156.8,851.7 L160.8,852.0 L166.0,854.2 L171.6,856.8 L177.0,859.8 L182.5,861.7 L189.0,863.0 L196.0,864.4 L203.0,867.7 L209.5,870.4 L216.0,870.8 L223.1,869.8 L228.5,868.6 L233.9,866.3 L242.0,861.7 L250.2,856.8 L259.5,851.0 L269.1,845.5 L279.0,841.0 L288.1,836.5 L295.0,831.0 L301.6,824.3 L307.0,815.7 L312.4,805.4 L317.5,794.5 L322.5,783.7 L328.0,768.0 L333.3,751.2 L337.5,736.0 L341.4,721.4 L345.0,708.5 L348.2,697.1 L351.0,691.5 L353.6,689.0 L356.3,687.9 L358.4,688.6 L360.4,690.3 L363.0,695.5 L365.8,702.5 L370.0,712.8 L373.9,722.8 L378.0,731.5 L382.1,740.4 L386.0,752.0 L390.2,764.8 L394.3,777.0 L398.3,789.1 L402.4,800.0 L406.4,810.8 L410.5,820.2 L414.6,829.8 L418.6,841.5 L422.7,854.1 L425.4,860.2 L428.1,865.0 L430.8,868.0 L433.5,869.6 L437.5,870.0 L441.6,869.6 L447.0,867.0 L452.5,863.6 L456.5,860.6 L460.6,858.2 L463.3,857.1 L466.0,856.8 L470.0,857.6 L474.1,859.5 L478.2,864.0 L482.2,870.4 L486.3,878.8 L490.4,888.0 L493.7,894.8 L497.1,900.2 L501.8,903.0 L506.6,905.6 L510.6,909.3 L514.7,913.7 L517.4,915.6 L520.1,916.9 L527.0,917.8 L533.7,918.6 L540.5,920.2 L547.2,921.8 L551.3,922.8 L555.4,923.2 L564.0,923.3 L573.0,923.2 L573.0,928.0 L33.0,928.0 Z" fill="url(#gL)" stroke="none"/>
<path d="M33.0,926.0 L36.2,924.5 L48.0,923.3 L60.6,921.8 L70.0,919.5 L79.6,915.0 L85.0,910.8 L90.4,905.6 L95.5,899.5 L101.2,893.4 L108.0,887.6 L114.8,882.6 L121.5,876.5 L128.3,870.4 L135.0,863.8 L141.8,856.8 L147.0,853.4 L152.7,852.0 L156.8,851.7 L160.8,852.0 L166.0,854.2 L171.6,856.8 L177.0,859.8 L182.5,861.7 L189.0,863.0 L196.0,864.4 L203.0,867.7 L209.5,870.4 L216.0,870.8 L223.1,869.8 L228.5,868.6 L233.9,866.3 L242.0,861.7 L250.2,856.8 L259.5,851.0 L269.1,845.5 L279.0,841.0 L288.1,836.5 L295.0,831.0 L301.6,824.3 L307.0,815.7 L312.4,805.4 L317.5,794.5 L322.5,783.7 L328.0,768.0 L333.3,751.2 L337.5,736.0 L341.4,721.4 L345.0,708.5 L348.2,697.1 L351.0,691.5 L353.6,689.0 L356.3,687.9 L358.4,688.6 L360.4,690.3 L363.0,695.5 L365.8,702.5 L370.0,712.8 L373.9,722.8 L378.0,731.5 L382.1,740.4 L386.0,752.0 L390.2,764.8 L394.3,777.0 L398.3,789.1 L402.4,800.0 L406.4,810.8 L410.5,820.2 L414.6,829.8 L418.6,841.5 L422.7,854.1 L425.4,860.2 L428.1,865.0 L430.8,868.0 L433.5,869.6 L437.5,870.0 L441.6,869.6 L447.0,867.0 L452.5,863.6 L456.5,860.6 L460.6,858.2 L463.3,857.1 L466.0,856.8 L470.0,857.6 L474.1,859.5 L478.2,864.0 L482.2,870.4 L486.3,878.8 L490.4,888.0 L493.7,894.8 L497.1,900.2 L501.8,903.0 L506.6,905.6 L510.6,909.3 L514.7,913.7 L517.4,915.6 L520.1,916.9 L527.0,917.8 L533.7,918.6 L540.5,920.2 L547.2,921.8 L551.3,922.8 L555.4,923.2 L564.0,923.3 L573.0,923.2" fill="none" stroke="#000" stroke-width="2.3" stroke-linejoin="round"/>
<path d="M32.3,927.6 H572.0" stroke="#000" stroke-width="1.6" fill="none"/>
<path d="M32.3,927.6 v8 M109.4,927.6 v5 M186.5,927.6 v8 M263.6,927.6 v5 M340.7,927.6 v8 M417.8,927.6 v5 M494.9,927.6 v8 M572.0,927.6 v5 " stroke="#000" stroke-width="1.6" fill="none"/>
<text x="31.5" y="975.2" font-size="30" text-anchor="middle" fill="#000" >6000</text>
<text x="185.7" y="975.2" font-size="30" text-anchor="middle" fill="#000" >4000</text>
<text x="339.9" y="975.2" font-size="30" text-anchor="middle" fill="#000" >2000</text>
<text x="494.1" y="975.2" font-size="30" text-anchor="middle" fill="#000" >0</text>
<defs><linearGradient id="r1a" gradientUnits="userSpaceOnUse" x1="0" y1="80" x2="0" y2="317"><stop offset="0" stop-color="#ebe0d5"/><stop offset="0.5" stop-color="#ddd6d0"/><stop offset="1" stop-color="#cdcccb"/></linearGradient></defs>
<defs><linearGradient id="r1b" gradientUnits="userSpaceOnUse" x1="0" y1="190" x2="0" y2="317"><stop offset="0" stop-color="#f0ede9"/><stop offset="1" stop-color="#e3e2e1"/></linearGradient></defs>
<path d="M900.0,317.1 L901.5,317.1 L903.0,317.1 L904.5,317.1 L906.0,317.1 L907.5,317.1 L909.0,317.1 L910.5,317.1 L912.0,317.0 L913.5,317.0 L915.0,317.0 L916.5,316.9 L918.0,316.9 L919.5,316.8 L921.0,316.7 L922.5,316.5 L924.0,316.3 L925.5,316.0 L927.0,315.7 L928.5,315.2 L930.0,314.6 L931.5,313.8 L933.0,312.8 L934.5,311.6 L936.0,310.1 L937.5,308.2 L939.0,305.9 L940.5,303.2 L942.0,300.0 L943.5,296.1 L945.0,291.6 L946.5,286.4 L948.0,280.4 L949.5,273.6 L951.0,265.9 L952.5,257.4 L954.0,248.0 L955.5,237.9 L957.0,226.9 L958.5,215.3 L960.0,203.1 L961.5,190.5 L963.0,177.7 L964.5,164.8 L966.0,152.1 L967.5,139.7 L969.0,128.0 L970.5,117.2 L972.0,107.4 L973.5,99.0 L975.0,92.0 L976.5,86.8 L978.0,83.3 L979.5,81.7 L981.0,82.0 L982.5,84.3 L984.0,88.3 L985.5,94.2 L987.0,101.6 L988.5,110.5 L990.0,120.7 L991.5,131.8 L993.0,143.8 L994.5,156.3 L996.0,169.1 L997.5,182.0 L999.0,194.8 L1000.5,207.2 L1002.0,219.2 L1003.5,230.6 L1005.0,241.3 L1006.5,251.2 L1008.0,260.3 L1009.5,268.5 L1011.0,275.9 L1012.5,282.5 L1014.0,288.2 L1015.5,293.2 L1017.0,297.5 L1018.5,301.1 L1020.0,304.2 L1021.5,306.8 L1023.0,308.9 L1024.5,310.6 L1026.0,312.0 L1027.5,313.2 L1029.0,314.1 L1030.5,314.8 L1032.0,315.4 L1033.5,315.8 L1035.0,316.1 L1036.5,316.4 L1038.0,316.6 L1039.5,316.7 L1041.0,316.8 L1042.5,316.9 L1044.0,317.0 L1045.5,317.0 L1047.0,317.0 L1048.5,317.1 L1050.0,317.1 L1051.5,317.1 L1053.0,317.1 L1054.5,317.1 L1056.0,317.1 L1057.5,317.1 L1059.0,317.1 L1059.0,317.1 L900.0,317.1 Z" fill="url(#r1a)"/>
<path d="M1100.0,317.1 L1101.5,317.1 L1103.0,317.1 L1104.5,317.1 L1106.0,317.1 L1107.5,317.1 L1109.0,317.1 L1110.5,317.1 L1112.0,317.0 L1113.5,317.0 L1115.0,317.0 L1116.5,317.0 L1118.0,316.9 L1119.5,316.8 L1121.0,316.7 L1122.5,316.6 L1124.0,316.5 L1125.5,316.2 L1127.0,316.0 L1128.5,315.6 L1130.0,315.2 L1131.5,314.6 L1133.0,314.0 L1134.5,313.1 L1136.0,312.1 L1137.5,310.9 L1139.0,309.4 L1140.5,307.6 L1142.0,305.6 L1143.5,303.2 L1145.0,300.4 L1146.5,297.3 L1148.0,293.7 L1149.5,289.7 L1151.0,285.2 L1152.5,280.3 L1154.0,275.0 L1155.5,269.3 L1157.0,263.3 L1158.5,257.0 L1160.0,250.4 L1161.5,243.7 L1163.0,237.0 L1164.5,230.3 L1166.0,223.7 L1167.5,217.5 L1169.0,211.7 L1170.5,206.4 L1172.0,201.7 L1173.5,197.8 L1175.0,194.7 L1176.5,192.5 L1178.0,191.2 L1179.5,190.9 L1181.0,191.6 L1182.5,193.3 L1184.0,195.8 L1185.5,199.3 L1187.0,203.5 L1188.5,208.4 L1190.0,214.0 L1191.5,220.0 L1193.0,226.3 L1194.5,232.9 L1196.0,239.7 L1197.5,246.4 L1199.0,253.1 L1200.5,259.5 L1202.0,265.8 L1203.5,271.7 L1205.0,277.2 L1206.5,282.3 L1208.0,287.1 L1209.5,291.3 L1211.0,295.2 L1212.5,298.6 L1214.0,301.6 L1215.5,304.2 L1217.0,306.4 L1218.5,308.4 L1220.0,310.0 L1221.5,311.4 L1223.0,312.5 L1224.5,313.5 L1226.0,314.2 L1227.5,314.9 L1229.0,315.4 L1230.5,315.8 L1232.0,316.1 L1233.5,316.3 L1235.0,316.5 L1236.5,316.7 L1238.0,316.8 L1239.5,316.9 L1241.0,316.9 L1242.5,317.0 L1244.0,317.0 L1245.5,317.0 L1247.0,317.1 L1248.5,317.1 L1250.0,317.1 L1251.5,317.1 L1253.0,317.1 L1254.5,317.1 L1256.0,317.1 L1257.5,317.1 L1259.0,317.1 L1259.0,317.1 L1100.0,317.1 Z" fill="url(#r1b)"/>
<rect x="682.6" y="317.1" width="637.5" height="3.5" fill="#808080"/>
<path d="M682.6,320.8 H1320.2" stroke="#000" stroke-width="2.4" fill="none"/>
<path d="M683.7,320.8 v14.5 M763.1,320.8 v8.0 M842.5,320.8 v14.5 M921.9,320.8 v8.0 M1001.4,320.8 v14.5 M1080.8,320.8 v8.0 M1160.2,320.8 v14.5 M1239.6,320.8 v8.0 M1319.0,320.8 v14.5 " stroke="#000" stroke-width="2.3" fill="none"/>
<text x="683.7" y="372.0" font-size="31.5" text-anchor="middle" fill="#000" >0.20</text>
<text x="842.5" y="372.0" font-size="31.5" text-anchor="middle" fill="#000" >0.15</text>
<text x="1001.4" y="372.0" font-size="31.5" text-anchor="middle" fill="#000" >0.10</text>
<text x="1160.2" y="372.0" font-size="31.5" text-anchor="middle" fill="#000" >0.05</text>
<text x="1319.0" y="372.0" font-size="31.5" text-anchor="middle" fill="#000" >0.00</text>
<path d="M682.6,317.1 L915.1,317.0 L916.6,316.9 L918.1,316.9 L919.6,316.8 L921.1,316.7 L922.6,316.5 L924.1,316.3 L925.6,316.0 L927.1,315.6 L928.6,315.1 L930.1,314.5 L931.6,313.7 L933.1,312.7 L934.6,311.5 L936.1,310.0 L937.6,308.1 L939.1,305.8 L940.6,303.0 L942.1,299.7 L943.6,295.8 L945.1,291.3 L946.6,286.0 L948.1,279.9 L949.6,273.1 L951.1,265.4 L952.6,256.8 L954.1,247.4 L955.6,237.1 L957.1,226.2 L958.6,214.5 L960.1,202.3 L961.6,189.7 L963.1,176.8 L964.6,164.0 L966.1,151.2 L967.6,138.9 L969.1,127.3 L970.6,116.5 L972.1,106.8 L973.6,98.5 L975.1,91.6 L976.6,86.5 L978.1,83.1 L979.6,81.7 L981.1,82.1 L982.6,84.5 L984.1,88.7 L985.6,94.6 L987.1,102.2 L988.6,111.2 L990.1,121.4 L991.6,132.6 L993.1,144.6 L994.6,157.1 L996.1,170.0 L997.6,182.9 L999.1,195.6 L1000.6,208.1 L1002.1,220.0 L1003.6,231.4 L1005.1,242.0 L1006.6,251.9 L1008.1,260.9 L1009.6,269.1 L1011.1,276.4 L1012.6,282.9 L1014.1,288.5 L1015.6,293.5 L1017.1,297.7 L1018.6,301.3 L1020.1,304.4 L1021.6,306.9 L1023.1,309.0 L1024.6,310.7 L1026.1,312.1 L1027.6,313.2 L1029.1,314.1 L1030.6,314.8 L1032.1,315.4 L1033.6,315.8 L1035.1,316.1 L1036.6,316.4 L1038.1,316.6 L1039.6,316.7 L1041.1,316.8 L1042.6,316.9 L1044.1,317.0 L1116.1,317.0 L1117.6,316.9 L1119.1,316.9 L1120.6,316.8 L1122.1,316.7 L1123.6,316.5 L1125.1,316.3 L1126.6,316.0 L1128.1,315.7 L1129.6,315.3 L1131.1,314.8 L1132.6,314.2 L1134.1,313.4 L1135.6,312.4 L1137.1,311.2 L1138.6,309.8 L1140.1,308.1 L1141.6,306.2 L1143.1,303.9 L1144.6,301.2 L1146.1,298.1 L1147.6,294.7 L1149.1,290.8 L1150.6,286.4 L1152.1,281.7 L1153.6,276.5 L1155.1,270.9 L1156.6,264.9 L1158.1,258.7 L1159.6,252.2 L1161.1,245.5 L1162.6,238.8 L1164.1,232.0 L1165.6,225.5 L1167.1,219.1 L1168.6,213.2 L1170.1,207.7 L1171.6,202.9 L1173.1,198.8 L1174.6,195.4 L1176.1,193.0 L1177.6,191.5 L1179.1,190.9 L1180.6,191.3 L1182.1,192.7 L1183.6,195.1 L1185.1,198.3 L1186.6,202.3 L1188.1,207.1 L1189.6,212.4 L1191.1,218.3 L1192.6,224.6 L1194.1,231.1 L1195.6,237.9 L1197.1,244.6 L1198.6,251.3 L1200.1,257.8 L1201.6,264.1 L1203.1,270.1 L1204.6,275.8 L1206.1,281.0 L1207.6,285.8 L1209.1,290.2 L1210.6,294.2 L1212.1,297.7 L1213.6,300.8 L1215.1,303.5 L1216.6,305.9 L1218.1,307.9 L1219.6,309.6 L1221.1,311.0 L1222.6,312.2 L1224.1,313.2 L1225.6,314.1 L1227.1,314.7 L1228.6,315.2 L1230.1,315.7 L1231.6,316.0 L1233.1,316.3 L1234.6,316.5 L1236.1,316.6 L1237.6,316.8 L1239.1,316.8 L1240.6,316.9 L1242.1,317.0 L1320.1,317.1" fill="none" stroke="#000" stroke-width="2.35" stroke-linejoin="round"/>
<defs><linearGradient id="s1a" gradientUnits="userSpaceOnUse" x1="0" y1="390" x2="0" y2="618.3"><stop offset="0" stop-color="#f2efeb"/><stop offset="1" stop-color="#e7e5e3"/></linearGradient></defs>
<defs><linearGradient id="s1b" gradientUnits="userSpaceOnUse" x1="0" y1="390" x2="0" y2="618.3"><stop offset="0" stop-color="#ded8d2"/><stop offset="0.5" stop-color="#d4cfcc"/><stop offset="1" stop-color="#c8c6c5"/></linearGradient></defs>
<defs><linearGradient id="s1c" gradientUnits="userSpaceOnUse" x1="0" y1="390" x2="0" y2="618.3"><stop offset="0" stop-color="#e2d0c7"/><stop offset="0.5" stop-color="#d3c6c2"/><stop offset="1" stop-color="#c4bcba"/></linearGradient></defs>
<defs><linearGradient id="s1d" gradientUnits="userSpaceOnUse" x1="0" y1="390" x2="0" y2="618.3"><stop offset="0" stop-color="#c0b0aa"/><stop offset="0.5" stop-color="#b2a7a4"/><stop offset="1" stop-color="#a7a2a1"/></linearGradient></defs>
<path d="M683.7,618.3 L868.2,618.2 L869.7,618.1 L871.2,618.1 L872.7,618.1 L874.2,618.0 L875.7,618.0 L877.2,617.9 L878.7,617.8 L880.2,617.8 L881.7,617.6 L883.2,617.5 L884.7,617.4 L886.2,617.2 L887.7,617.0 L889.2,616.8 L890.7,616.5 L892.2,616.2 L893.7,615.9 L895.2,615.5 L896.7,615.1 L898.2,614.6 L899.7,614.0 L901.2,613.3 L902.7,612.6 L904.2,611.7 L905.7,610.8 L907.2,609.8 L908.7,608.6 L910.2,607.3 L911.7,605.8 L913.2,604.3 L914.7,602.5 L916.2,600.6 L917.7,598.4 L919.2,596.1 L920.7,593.6 L922.2,590.8 L923.7,587.9 L925.2,584.7 L926.7,581.2 L928.2,577.5 L929.7,573.5 L931.2,569.3 L932.7,564.8 L934.2,560.1 L935.7,555.1 L937.2,549.9 L938.7,544.4 L940.2,538.6 L941.7,532.7 L943.2,526.5 L944.7,520.1 L946.2,513.6 L947.7,506.9 L949.2,500.0 L950.7,493.1 L952.2,486.1 L953.7,479.1 L955.2,472.1 L956.7,465.1 L958.2,458.2 L959.7,451.4 L961.2,444.7 L962.7,438.3 L964.2,432.1 L965.7,426.1 L967.2,420.5 L968.7,415.3 L970.2,410.4 L971.7,405.9 L973.2,401.9 L974.7,398.4 L976.2,395.4 L977.7,393.0 L979.2,391.1 L980.7,389.7 L982.2,389.0 L983.7,388.8 L985.2,389.2 L986.7,390.3 L988.2,392.0 L989.7,394.3 L991.2,397.1 L992.7,400.5 L994.2,404.5 L995.7,408.9 L997.2,413.8 L998.7,419.2 L1000.2,424.9 L1001.7,431.0 L1003.2,437.3 L1004.7,444.0 L1006.2,450.8 L1007.7,457.8 L1009.2,464.9 L1010.7,472.1 L1012.2,479.3 L1013.7,486.6 L1015.2,493.7 L1016.7,500.8 L1018.2,507.7 L1019.7,514.5 L1021.2,521.1 L1022.7,527.5 L1024.2,533.7 L1025.7,539.6 L1027.2,545.2 L1028.7,550.5 L1030.2,555.5 L1031.7,560.2 L1033.2,564.6 L1034.7,568.6 L1036.2,572.3 L1037.7,575.7 L1039.2,578.7 L1040.7,581.3 L1042.2,583.6 L1043.7,585.6 L1045.2,587.2 L1046.7,588.5 L1048.2,589.5 L1049.7,590.1 L1051.2,590.4 L1052.7,590.4 L1054.2,590.0 L1055.7,589.4 L1057.2,588.5 L1058.7,587.2 L1060.2,585.7 L1061.7,583.9 L1063.2,581.8 L1064.7,579.5 L1066.2,576.9 L1067.7,574.1 L1069.2,571.1 L1070.7,567.8 L1072.2,564.4 L1073.7,560.8 L1075.2,557.1 L1076.7,553.2 L1078.2,549.3 L1079.7,545.2 L1081.2,541.1 L1082.7,537.0 L1084.2,532.9 L1085.7,528.8 L1087.2,524.8 L1088.7,520.9 L1090.2,517.1 L1091.7,513.5 L1093.2,510.0 L1094.7,506.8 L1096.2,503.8 L1097.7,501.1 L1099.2,498.7 L1100.7,496.5 L1102.2,494.7 L1103.7,493.3 L1105.2,492.2 L1106.7,491.5 L1108.2,491.1 L1109.7,491.1 L1111.2,491.3 L1112.7,491.3 L1114.2,491.6 L1115.7,492.3 L1117.2,493.3 L1118.7,494.6 L1120.2,496.3 L1121.7,498.3 L1123.2,500.5 L1124.7,503.0 L1126.2,505.8 L1127.7,508.7 L1129.2,511.8 L1130.7,514.4 L1132.2,517.1 L1133.7,519.8 L1135.2,522.5 L1136.7,525.2 L1138.2,527.8 L1139.7,530.3 L1141.2,532.6 L1142.7,534.8 L1144.2,536.9 L1145.7,538.7 L1147.2,540.3 L1148.7,541.6 L1150.2,542.6 L1151.7,543.3 L1153.2,543.6 L1154.7,543.6 L1156.2,543.2 L1157.7,542.4 L1159.2,541.1 L1160.7,539.5 L1162.2,537.4 L1163.7,534.8 L1165.2,531.8 L1166.7,528.4 L1168.2,524.5 L1169.7,520.3 L1171.2,515.6 L1172.7,510.5 L1174.2,505.1 L1175.7,499.3 L1177.2,493.3 L1178.7,487.0 L1180.2,480.5 L1181.7,473.9 L1183.2,467.2 L1184.7,460.4 L1186.2,453.7 L1187.7,447.0 L1189.2,440.5 L1190.7,434.1 L1192.2,428.1 L1193.7,422.3 L1195.2,416.9 L1196.7,412.0 L1198.2,407.5 L1199.7,403.6 L1201.2,400.3 L1202.7,397.6 L1204.2,395.5 L1205.7,394.1 L1207.2,393.4 L1208.7,393.4 L1210.2,394.2 L1211.7,395.7 L1213.2,397.9 L1214.7,400.9 L1216.2,404.6 L1217.7,409.0 L1219.2,413.9 L1220.7,419.5 L1222.2,425.6 L1223.7,432.1 L1225.2,439.0 L1226.7,446.3 L1228.2,453.9 L1229.7,461.7 L1231.2,469.6 L1232.7,477.6 L1234.2,485.7 L1235.7,493.7 L1237.2,501.7 L1238.7,509.5 L1240.2,517.2 L1241.7,524.6 L1243.2,531.8 L1244.7,538.8 L1246.2,545.4 L1247.7,551.7 L1249.2,557.7 L1250.7,563.3 L1252.2,568.6 L1253.7,573.6 L1255.2,576.9 L1256.7,580.0 L1258.2,583.0 L1259.7,585.9 L1261.2,588.6 L1262.7,591.1 L1264.2,593.5 L1265.7,595.7 L1267.2,597.8 L1268.7,599.8 L1270.2,601.6 L1271.7,603.2 L1273.2,604.8 L1274.7,606.2 L1276.2,607.5 L1277.7,608.6 L1279.2,609.7 L1280.7,610.7 L1282.2,611.6 L1283.7,612.4 L1285.2,613.1 L1286.7,613.7 L1288.2,614.3 L1289.7,614.8 L1291.2,615.2 L1292.7,615.6 L1294.2,616.0 L1295.7,616.3 L1297.2,616.6 L1298.7,616.8 L1300.2,617.0 L1301.7,617.2 L1303.2,617.4 L1304.7,617.5 L1306.2,617.6 L1307.7,617.7 L1309.2,617.8 L1310.7,617.9 L1312.2,618.0 L1313.7,618.0 L1315.2,618.1 L1316.7,618.1 L1318.2,618.1 L1318.2,618.3 L683.7,618.3 Z" fill="url(#s1a)"/>
<path d="M683.7,618.3 L875.7,618.2 L877.2,618.1 L878.7,618.1 L880.2,618.0 L881.7,618.0 L883.2,617.9 L884.7,617.8 L886.2,617.7 L887.7,617.6 L889.2,617.5 L890.7,617.4 L892.2,617.2 L893.7,617.0 L895.2,616.7 L896.7,616.4 L898.2,616.1 L899.7,615.7 L901.2,615.2 L902.7,614.7 L904.2,614.1 L905.7,613.5 L907.2,612.7 L908.7,611.8 L910.2,610.9 L911.7,609.7 L913.2,608.5 L914.7,607.1 L916.2,605.6 L917.7,603.8 L919.2,601.9 L920.7,599.8 L922.2,597.5 L923.7,594.9 L925.2,592.2 L926.7,589.1 L928.2,585.8 L929.7,582.3 L931.2,578.5 L932.7,574.3 L934.2,569.9 L935.7,565.3 L937.2,560.3 L938.7,555.0 L940.2,549.5 L941.7,543.7 L943.2,537.6 L944.7,531.3 L946.2,524.8 L947.7,518.0 L949.2,511.1 L950.7,504.1 L952.2,496.9 L953.7,489.6 L955.2,482.3 L956.7,475.0 L958.2,467.7 L959.7,460.6 L961.2,453.5 L962.7,446.6 L964.2,440.0 L965.7,433.6 L967.2,427.6 L968.7,421.9 L970.2,416.6 L971.7,411.8 L973.2,407.5 L974.7,403.7 L976.2,400.4 L977.7,397.8 L979.2,395.7 L980.7,394.3 L982.2,393.5 L983.7,393.3 L985.2,393.9 L986.7,395.1 L988.2,397.0 L989.7,399.5 L991.2,402.7 L992.7,406.5 L994.2,410.9 L995.7,415.8 L997.2,421.2 L998.7,427.1 L1000.2,433.3 L1001.7,439.9 L1003.2,446.8 L1004.7,453.9 L1006.2,461.3 L1007.7,468.7 L1009.2,476.3 L1010.7,483.9 L1012.2,491.4 L1013.7,498.9 L1015.2,506.3 L1016.7,513.6 L1018.2,520.7 L1019.7,527.6 L1021.2,534.3 L1022.7,540.7 L1024.2,546.9 L1025.7,552.7 L1027.2,558.3 L1028.7,563.6 L1030.2,568.5 L1031.7,573.2 L1033.2,577.5 L1034.7,581.6 L1036.2,585.3 L1037.7,588.7 L1039.2,591.9 L1040.7,594.8 L1042.2,597.5 L1043.7,599.9 L1045.2,602.0 L1046.7,604.0 L1048.2,605.8 L1049.7,607.4 L1051.2,608.8 L1052.7,610.0 L1054.2,611.1 L1055.7,612.1 L1057.2,613.0 L1058.7,613.7 L1060.2,614.4 L1061.7,615.0 L1063.2,615.5 L1064.7,615.9 L1066.2,616.3 L1067.7,616.6 L1069.2,616.9 L1070.7,617.1 L1072.2,617.3 L1073.7,617.5 L1075.2,617.6 L1076.7,617.7 L1078.2,617.8 L1079.7,617.9 L1081.2,618.0 L1082.7,618.0 L1084.2,618.1 L1085.7,618.1 L1087.2,618.1 L1088.7,618.1 L1090.2,618.1 L1091.7,618.1 L1093.2,618.1 L1094.7,618.1 L1096.2,618.1 L1097.7,618.1 L1099.2,618.1 L1100.7,618.0 L1102.2,618.0 L1103.7,617.9 L1105.2,617.9 L1106.7,617.8 L1108.2,617.7 L1109.7,617.6 L1111.2,617.5 L1112.7,617.4 L1114.2,617.2 L1115.7,617.0 L1117.2,616.8 L1118.7,616.6 L1120.2,616.3 L1121.7,616.0 L1123.2,615.7 L1124.7,615.3 L1126.2,614.9 L1127.7,614.5 L1129.2,613.9 L1130.7,613.4 L1132.2,612.7 L1133.7,612.0 L1135.2,611.2 L1136.7,610.3 L1138.2,609.4 L1139.7,608.3 L1141.2,607.2 L1142.7,605.9 L1144.2,604.6 L1145.7,603.1 L1147.2,601.5 L1148.7,599.8 L1150.2,597.9 L1151.7,596.0 L1153.2,593.9 L1154.7,591.6 L1156.2,589.2 L1157.7,586.7 L1159.2,584.1 L1160.7,581.3 L1162.2,578.3 L1163.7,575.3 L1165.2,572.1 L1166.7,568.8 L1168.2,565.4 L1169.7,561.9 L1171.2,558.2 L1172.7,554.6 L1174.2,550.8 L1175.7,547.0 L1177.2,543.1 L1178.7,539.2 L1180.2,535.3 L1181.7,531.5 L1183.2,527.6 L1184.7,523.8 L1186.2,520.1 L1187.7,516.5 L1189.2,513.0 L1190.7,509.6 L1192.2,506.4 L1193.7,503.3 L1195.2,500.4 L1196.7,497.8 L1198.2,495.4 L1199.7,493.2 L1201.2,491.3 L1202.7,489.6 L1204.2,488.3 L1205.7,487.2 L1207.2,486.4 L1208.7,486.0 L1210.2,485.8 L1211.7,486.0 L1213.2,486.5 L1214.7,487.3 L1216.2,488.5 L1217.7,490.0 L1219.2,491.8 L1220.7,493.9 L1222.2,496.3 L1223.7,499.0 L1225.2,501.9 L1226.7,505.0 L1228.2,508.3 L1229.7,511.8 L1231.2,515.5 L1232.7,519.2 L1234.2,523.1 L1235.7,527.1 L1237.2,531.1 L1238.7,535.2 L1240.2,539.3 L1241.7,543.4 L1243.2,547.4 L1244.7,551.4 L1246.2,555.4 L1247.7,559.2 L1249.2,563.0 L1250.7,566.7 L1252.2,570.2 L1253.7,573.6 L1255.2,576.9 L1256.7,580.0 L1258.2,583.0 L1259.7,585.9 L1261.2,588.6 L1262.7,591.1 L1264.2,593.5 L1265.7,595.7 L1267.2,597.8 L1268.7,599.8 L1270.2,601.6 L1271.7,603.2 L1273.2,604.8 L1274.7,606.2 L1276.2,607.5 L1277.7,608.6 L1279.2,609.7 L1280.7,610.7 L1282.2,611.6 L1283.7,612.4 L1285.2,613.1 L1286.7,613.7 L1288.2,614.3 L1289.7,614.8 L1291.2,615.2 L1292.7,615.6 L1294.2,616.0 L1295.7,616.3 L1297.2,616.6 L1298.7,616.8 L1300.2,617.0 L1301.7,617.2 L1303.2,617.4 L1304.7,617.5 L1306.2,617.6 L1307.7,617.7 L1309.2,617.8 L1310.7,617.9 L1312.2,618.0 L1313.7,618.0 L1315.2,618.1 L1316.7,618.1 L1318.2,618.1 L1318.2,618.3 L683.7,618.3 Z" fill="url(#s1b)"/>
<path d="M683.7,618.3 L1003.2,618.2 L1004.7,618.1 L1006.2,618.1 L1007.7,618.0 L1009.2,618.0 L1010.7,617.9 L1012.2,617.9 L1013.7,617.8 L1015.2,617.7 L1016.7,617.6 L1018.2,617.5 L1019.7,617.3 L1021.2,617.2 L1022.7,617.0 L1024.2,616.7 L1025.7,616.5 L1027.2,616.2 L1028.7,615.9 L1030.2,615.5 L1031.7,615.1 L1033.2,614.6 L1034.7,614.1 L1036.2,613.5 L1037.7,612.9 L1039.2,612.1 L1040.7,611.3 L1042.2,610.4 L1043.7,609.4 L1045.2,608.3 L1046.7,607.2 L1048.2,605.9 L1049.7,604.4 L1051.2,602.9 L1052.7,601.2 L1054.2,599.4 L1055.7,597.5 L1057.2,595.4 L1058.7,593.2 L1060.2,590.8 L1061.7,588.3 L1063.2,585.7 L1064.7,582.9 L1066.2,579.9 L1067.7,576.9 L1069.2,573.7 L1070.7,570.3 L1072.2,566.9 L1073.7,563.3 L1075.2,559.7 L1076.7,555.9 L1078.2,552.1 L1079.7,548.3 L1081.2,544.4 L1082.7,540.5 L1084.2,536.6 L1085.7,532.7 L1087.2,528.9 L1088.7,525.1 L1090.2,521.5 L1091.7,517.9 L1093.2,514.5 L1094.7,511.2 L1096.2,508.2 L1097.7,505.3 L1099.2,502.6 L1100.7,500.2 L1102.2,498.1 L1103.7,496.2 L1105.2,494.6 L1106.7,493.3 L1108.2,492.3 L1109.7,491.7 L1111.2,491.3 L1112.7,491.3 L1114.2,491.6 L1115.7,492.3 L1117.2,493.3 L1118.7,494.6 L1120.2,496.3 L1121.7,498.3 L1123.2,500.5 L1124.7,503.0 L1126.2,505.8 L1127.7,508.7 L1129.2,511.9 L1130.7,515.2 L1132.2,518.7 L1133.7,522.3 L1135.2,526.0 L1136.7,529.8 L1138.2,533.5 L1139.7,537.3 L1141.2,541.1 L1142.7,544.8 L1144.2,548.4 L1145.7,551.9 L1147.2,555.3 L1148.7,558.5 L1150.2,561.6 L1151.7,564.5 L1153.2,567.1 L1154.7,569.5 L1156.2,571.7 L1157.7,573.6 L1159.2,575.3 L1160.7,576.6 L1162.2,577.7 L1163.7,578.5 L1165.2,579.0 L1166.7,579.2 L1168.2,579.1 L1169.7,578.7 L1171.2,578.1 L1172.7,577.2 L1174.2,576.0 L1175.7,574.6 L1177.2,573.0 L1178.7,571.1 L1180.2,569.1 L1181.7,566.9 L1183.2,564.6 L1184.7,562.1 L1186.2,559.6 L1187.7,557.1 L1189.2,554.5 L1190.7,551.9 L1192.2,549.4 L1193.7,547.0 L1195.2,544.7 L1196.7,542.5 L1198.2,540.5 L1199.7,538.6 L1201.2,537.0 L1202.7,535.7 L1204.2,534.5 L1205.7,533.7 L1207.2,533.2 L1208.7,532.9 L1210.2,533.0 L1211.7,533.4 L1213.2,534.3 L1214.7,535.4 L1216.2,537.0 L1217.7,538.9 L1219.2,541.1 L1220.7,543.5 L1222.2,546.3 L1223.7,549.2 L1225.2,552.4 L1226.7,555.6 L1228.2,559.0 L1229.7,562.5 L1231.2,566.0 L1232.7,569.5 L1234.2,573.0 L1235.7,576.5 L1237.2,579.8 L1238.7,583.1 L1240.2,586.2 L1241.7,589.2 L1243.2,592.0 L1244.7,594.7 L1246.2,597.2 L1247.7,599.5 L1249.2,601.6 L1250.7,603.6 L1252.2,605.4 L1253.7,607.0 L1255.2,608.5 L1256.7,609.8 L1258.2,611.0 L1259.7,612.0 L1261.2,612.9 L1262.7,613.7 L1264.2,614.4 L1265.7,615.0 L1267.2,615.6 L1268.7,616.0 L1270.2,616.4 L1271.7,616.7 L1273.2,617.0 L1274.7,617.2 L1276.2,617.4 L1277.7,617.6 L1279.2,617.7 L1280.7,617.8 L1282.2,617.9 L1283.7,618.0 L1285.2,618.1 L1286.7,618.1 L1288.2,618.2 L1318.2,618.3 L1318.2,618.3 L683.7,618.3 Z" fill="url(#s1c)"/>
<path d="M683.7,618.3 L1003.2,618.2 L1004.7,618.1 L1006.2,618.1 L1007.7,618.0 L1009.2,618.0 L1010.7,617.9 L1012.2,617.9 L1013.7,617.8 L1015.2,617.7 L1016.7,617.6 L1018.2,617.5 L1019.7,617.3 L1021.2,617.2 L1022.7,617.0 L1024.2,616.7 L1025.7,616.5 L1027.2,616.2 L1028.7,615.9 L1030.2,615.5 L1031.7,615.1 L1033.2,614.6 L1034.7,614.1 L1036.2,613.5 L1037.7,612.9 L1039.2,612.1 L1040.7,611.3 L1042.2,610.4 L1043.7,609.4 L1045.2,608.3 L1046.7,607.2 L1048.2,605.9 L1049.7,607.4 L1051.2,608.8 L1052.7,610.0 L1054.2,611.1 L1055.7,612.1 L1057.2,613.0 L1058.7,613.7 L1060.2,614.4 L1061.7,615.0 L1063.2,615.5 L1064.7,615.9 L1066.2,616.3 L1067.7,616.6 L1069.2,616.9 L1070.7,617.1 L1072.2,617.3 L1073.7,617.5 L1075.2,617.6 L1076.7,617.7 L1078.2,617.8 L1079.7,617.9 L1081.2,618.0 L1082.7,618.0 L1084.2,618.1 L1085.7,618.1 L1087.2,618.1 L1088.7,618.1 L1090.2,618.1 L1091.7,618.1 L1093.2,618.1 L1094.7,618.1 L1096.2,618.1 L1097.7,618.1 L1099.2,618.1 L1100.7,618.0 L1102.2,618.0 L1103.7,617.9 L1105.2,617.9 L1106.7,617.8 L1108.2,617.7 L1109.7,617.6 L1111.2,617.5 L1112.7,617.4 L1114.2,617.2 L1115.7,617.0 L1117.2,616.8 L1118.7,616.6 L1120.2,616.3 L1121.7,616.0 L1123.2,615.7 L1124.7,615.3 L1126.2,614.9 L1127.7,614.5 L1129.2,613.9 L1130.7,613.4 L1132.2,612.7 L1133.7,612.0 L1135.2,611.2 L1136.7,610.3 L1138.2,609.4 L1139.7,608.3 L1141.2,607.2 L1142.7,605.9 L1144.2,604.6 L1145.7,603.1 L1147.2,601.5 L1148.7,599.8 L1150.2,597.9 L1151.7,596.0 L1153.2,593.9 L1154.7,591.6 L1156.2,589.2 L1157.7,586.7 L1159.2,584.1 L1160.7,581.3 L1162.2,578.3 L1163.7,578.5 L1165.2,579.0 L1166.7,579.2 L1168.2,579.1 L1169.7,578.7 L1171.2,578.1 L1172.7,577.2 L1174.2,576.0 L1175.7,574.6 L1177.2,573.0 L1178.7,571.1 L1180.2,569.1 L1181.7,566.9 L1183.2,564.6 L1184.7,562.1 L1186.2,559.6 L1187.7,557.1 L1189.2,554.5 L1190.7,551.9 L1192.2,549.4 L1193.7,547.0 L1195.2,544.7 L1196.7,542.5 L1198.2,540.5 L1199.7,538.6 L1201.2,537.0 L1202.7,535.7 L1204.2,534.5 L1205.7,533.7 L1207.2,533.2 L1208.7,532.9 L1210.2,533.0 L1211.7,533.4 L1213.2,534.3 L1214.7,535.4 L1216.2,537.0 L1217.7,538.9 L1219.2,541.1 L1220.7,543.5 L1222.2,546.3 L1223.7,549.2 L1225.2,552.4 L1226.7,555.6 L1228.2,559.0 L1229.7,562.5 L1231.2,566.0 L1232.7,569.5 L1234.2,573.0 L1235.7,576.5 L1237.2,579.8 L1238.7,583.1 L1240.2,586.2 L1241.7,589.2 L1243.2,592.0 L1244.7,594.7 L1246.2,597.2 L1247.7,599.5 L1249.2,601.6 L1250.7,603.6 L1252.2,605.4 L1253.7,607.0 L1255.2,608.5 L1256.7,609.8 L1258.2,611.0 L1259.7,612.0 L1261.2,612.9 L1262.7,613.7 L1264.2,614.4 L1265.7,615.0 L1267.2,615.6 L1268.7,616.0 L1270.2,616.4 L1271.7,616.7 L1273.2,617.0 L1274.7,617.2 L1276.2,617.4 L1277.7,617.6 L1279.2,617.7 L1280.7,617.8 L1282.2,617.9 L1283.7,618.0 L1285.2,618.1 L1286.7,618.1 L1288.2,618.2 L1318.2,618.3 L1318.2,618.3 L683.7,618.3 Z" fill="url(#s1d)"/>
<rect x="682.6" y="618.3" width="637.5" height="4.4" fill="#e4dcdb"/>
<path d="M682.6,622.7 H1320.2" stroke="#000" stroke-width="2.7" fill="none"/>
<path d="M683.7,622.7 v14.5 M763.1,622.7 v8.0 M842.5,622.7 v14.5 M921.9,622.7 v8.0 M1001.4,622.7 v14.5 M1080.8,622.7 v8.0 M1160.2,622.7 v14.5 M1239.6,622.7 v8.0 M1319.0,622.7 v14.5 " stroke="#000" stroke-width="2.3" fill="none"/>
<text x="683.7" y="667.2" font-size="31.2" text-anchor="middle" fill="#000" >0.20</text>
<text x="842.5" y="667.2" font-size="31.2" text-anchor="middle" fill="#000" >0.15</text>
<text x="1001.4" y="667.2" font-size="31.2" text-anchor="middle" fill="#000" >0.10</text>
<text x="1160.2" y="667.2" font-size="31.2" text-anchor="middle" fill="#000" >0.05</text>
<text x="1319.0" y="667.2" font-size="31.2" text-anchor="middle" fill="#000" >0.00</text>
<path d="M683.7,618.3 L875.7,618.2 L877.2,618.1 L878.7,618.1 L880.2,618.0 L881.7,618.0 L883.2,617.9 L884.7,617.8 L886.2,617.7 L887.7,617.6 L889.2,617.5 L890.7,617.4 L892.2,617.2 L893.7,617.0 L895.2,616.7 L896.7,616.4 L898.2,616.1 L899.7,615.7 L901.2,615.2 L902.7,614.7 L904.2,614.1 L905.7,613.5 L907.2,612.7 L908.7,611.8 L910.2,610.9 L911.7,609.7 L913.2,608.5 L914.7,607.1 L916.2,605.6 L917.7,603.8 L919.2,601.9 L920.7,599.8 L922.2,597.5 L923.7,594.9 L925.2,592.2 L926.7,589.1 L928.2,585.8 L929.7,582.3 L931.2,578.5 L932.7,574.3 L934.2,569.9 L935.7,565.3 L937.2,560.3 L938.7,555.0 L940.2,549.5 L941.7,543.7 L943.2,537.6 L944.7,531.3 L946.2,524.8 L947.7,518.0 L949.2,511.1 L950.7,504.1 L952.2,496.9 L953.7,489.6 L955.2,482.3 L956.7,475.0 L958.2,467.7 L959.7,460.6 L961.2,453.5 L962.7,446.6 L964.2,440.0 L965.7,433.6 L967.2,427.6 L968.7,421.9 L970.2,416.6 L971.7,411.8 L973.2,407.5 L974.7,403.7 L976.2,400.4 L977.7,397.8 L979.2,395.7 L980.7,394.3 L982.2,393.5 L983.7,393.3 L985.2,393.9 L986.7,395.1 L988.2,397.0 L989.7,399.5 L991.2,402.7 L992.7,406.5 L994.2,410.9 L995.7,415.8 L997.2,421.2 L998.7,427.1 L1000.2,433.3 L1001.7,439.9 L1003.2,446.8 L1004.7,453.9 L1006.2,461.3 L1007.7,468.7 L1009.2,476.3 L1010.7,483.9 L1012.2,491.4 L1013.7,498.9 L1015.2,506.3 L1016.7,513.6 L1018.2,520.7 L1019.7,527.6 L1021.2,534.3 L1022.7,540.7 L1024.2,546.9 L1025.7,552.7 L1027.2,558.3 L1028.7,563.6 L1030.2,568.5 L1031.7,573.2 L1033.2,577.5 L1034.7,581.6 L1036.2,585.3 L1037.7,588.7 L1039.2,591.9 L1040.7,594.8 L1042.2,597.5 L1043.7,599.9 L1045.2,602.0 L1046.7,604.0 L1048.2,605.8 L1049.7,607.4 L1051.2,608.8 L1052.7,610.0 L1054.2,611.1 L1055.7,612.1 L1057.2,613.0 L1058.7,613.7 L1060.2,614.4 L1061.7,615.0 L1063.2,615.5 L1064.7,615.9 L1066.2,616.3 L1067.7,616.6 L1069.2,616.9 L1070.7,617.1 L1072.2,617.3 L1073.7,617.5 L1075.2,617.6 L1076.7,617.7 L1078.2,617.8 L1079.7,617.9 L1081.2,618.0 L1082.7,618.0 L1084.2,618.1 L1085.7,618.1 L1087.2,618.1 L1088.7,618.1 L1090.2,618.1 L1091.7,618.1 L1093.2,618.1 L1094.7,618.1 L1096.2,618.1 L1097.7,618.1 L1099.2,618.1 L1100.7,618.0 L1102.2,618.0 L1103.7,617.9 L1105.2,617.9 L1106.7,617.8 L1108.2,617.7 L1109.7,617.6 L1111.2,617.5 L1112.7,617.4 L1114.2,617.2 L1115.7,617.0 L1117.2,616.8 L1118.7,616.6 L1120.2,616.3 L1121.7,616.0 L1123.2,615.7 L1124.7,615.3 L1126.2,614.9 L1127.7,614.5 L1129.2,613.9 L1130.7,613.4 L1132.2,612.7 L1133.7,612.0 L1135.2,611.2 L1136.7,610.3 L1138.2,609.4 L1139.7,608.3 L1141.2,607.2 L1142.7,605.9 L1144.2,604.6 L1145.7,603.1 L1147.2,601.5 L1148.7,599.8 L1150.2,597.9 L1151.7,596.0 L1153.2,593.9 L1154.7,591.6 L1156.2,589.2 L1157.7,586.7 L1159.2,584.1 L1160.7,581.3 L1162.2,578.3 L1163.7,575.3 L1165.2,572.1 L1166.7,568.8 L1168.2,565.4 L1169.7,561.9 L1171.2,558.2 L1172.7,554.6 L1174.2,550.8 L1175.7,547.0 L1177.2,543.1 L1178.7,539.2 L1180.2,535.3 L1181.7,531.5 L1183.2,527.6 L1184.7,523.8 L1186.2,520.1 L1187.7,516.5 L1189.2,513.0 L1190.7,509.6 L1192.2,506.4 L1193.7,503.3 L1195.2,500.4 L1196.7,497.8 L1198.2,495.4 L1199.7,493.2 L1201.2,491.3 L1202.7,489.6 L1204.2,488.3 L1205.7,487.2 L1207.2,486.4 L1208.7,486.0 L1210.2,485.8 L1211.7,486.0 L1213.2,486.5 L1214.7,487.3 L1216.2,488.5 L1217.7,490.0 L1219.2,491.8 L1220.7,493.9 L1222.2,496.3 L1223.7,499.0 L1225.2,501.9 L1226.7,505.0 L1228.2,508.3 L1229.7,511.8 L1231.2,515.5 L1232.7,519.2 L1234.2,523.1 L1235.7,527.1 L1237.2,531.1 L1238.7,535.2 L1240.2,539.3 L1241.7,543.4 L1243.2,547.4 L1244.7,551.4 L1246.2,555.4 L1247.7,559.2 L1249.2,563.0 L1250.7,566.7 L1252.2,570.2 L1253.7,573.6 L1255.2,576.9 L1256.7,580.0 L1258.2,583.0 L1259.7,585.9 L1261.2,588.6 L1262.7,591.1 L1264.2,593.5 L1265.7,595.7 L1267.2,597.8 L1268.7,599.8 L1270.2,601.6 L1271.7,603.2 L1273.2,604.8 L1274.7,606.2 L1276.2,607.5 L1277.7,608.6 L1279.2,609.7 L1280.7,610.7 L1282.2,611.6 L1283.7,612.4 L1285.2,613.1 L1286.7,613.7 L1288.2,614.3 L1289.7,614.8 L1291.2,615.2 L1292.7,615.6 L1294.2,616.0 L1295.7,616.3 L1297.2,616.6 L1298.7,616.8 L1300.2,617.0 L1301.7,617.2 L1303.2,617.4 L1304.7,617.5 L1306.2,617.6 L1307.7,617.7 L1309.2,617.8 L1310.7,617.9 L1312.2,618.0 L1313.7,618.0 L1315.2,618.1 L1316.7,618.1 L1318.2,618.1" fill="none" stroke="#807e7e" stroke-width="3.3" stroke-linejoin="round"/>
<path d="M683.7,618.3 L868.2,618.2 L869.7,618.1 L871.2,618.1 L872.7,618.1 L874.2,618.0 L875.7,618.0 L877.2,617.9 L878.7,617.8 L880.2,617.8 L881.7,617.6 L883.2,617.5 L884.7,617.4 L886.2,617.2 L887.7,617.0 L889.2,616.8 L890.7,616.5 L892.2,616.2 L893.7,615.9 L895.2,615.5 L896.7,615.1 L898.2,614.6 L899.7,614.0 L901.2,613.3 L902.7,612.6 L904.2,611.7 L905.7,610.8 L907.2,609.8 L908.7,608.6 L910.2,607.3 L911.7,605.8 L913.2,604.3 L914.7,602.5 L916.2,600.6 L917.7,598.4 L919.2,596.1 L920.7,593.6 L922.2,590.8 L923.7,587.9 L925.2,584.7 L926.7,581.2 L928.2,577.5 L929.7,573.5 L931.2,569.3 L932.7,564.8 L934.2,560.1 L935.7,555.1 L937.2,549.9 L938.7,544.4 L940.2,538.6 L941.7,532.7 L943.2,526.5 L944.7,520.1 L946.2,513.6 L947.7,506.9 L949.2,500.0 L950.7,493.1 L952.2,486.1 L953.7,479.1 L955.2,472.1 L956.7,465.1 L958.2,458.2 L959.7,451.4 L961.2,444.7 L962.7,438.3 L964.2,432.1 L965.7,426.1 L967.2,420.5 L968.7,415.3 L970.2,410.4 L971.7,405.9 L973.2,401.9 L974.7,398.4 L976.2,395.4 L977.7,393.0 L979.2,391.1 L980.7,389.7 L982.2,389.0 L983.7,388.8 L985.2,389.2 L986.7,390.3 L988.2,392.0 L989.7,394.3 L991.2,397.1 L992.7,400.5 L994.2,404.5 L995.7,408.9 L997.2,413.8 L998.7,419.2 L1000.2,424.9 L1001.7,431.0 L1003.2,437.3 L1004.7,444.0 L1006.2,450.8 L1007.7,457.8 L1009.2,464.9 L1010.7,472.1 L1012.2,479.3 L1013.7,486.6 L1015.2,493.7 L1016.7,500.8 L1018.2,507.7 L1019.7,514.5 L1021.2,521.1 L1022.7,527.5 L1024.2,533.7 L1025.7,539.6 L1027.2,545.2 L1028.7,550.5 L1030.2,555.5 L1031.7,560.2 L1033.2,564.6 L1034.7,568.6 L1036.2,572.3 L1037.7,575.7 L1039.2,578.7 L1040.7,581.3 L1042.2,583.6 L1043.7,585.6 L1045.2,587.2 L1046.7,588.5 L1048.2,589.5 L1049.7,590.1 L1051.2,590.4 L1052.7,590.4 L1054.2,590.0 L1055.7,589.4 L1057.2,588.5 L1058.7,587.2 L1060.2,585.7 L1061.7,583.9 L1063.2,581.8 L1064.7,579.5 L1066.2,576.9 L1067.7,574.1 L1069.2,571.1 L1070.7,567.8 L1072.2,564.4 L1073.7,560.8 L1075.2,557.1 L1076.7,553.2 L1078.2,549.3 L1079.7,545.2 L1081.2,541.1 L1082.7,537.0 L1084.2,532.9 L1085.7,528.8 L1087.2,524.8 L1088.7,520.9 L1090.2,517.1 L1091.7,513.5 L1093.2,510.0 L1094.7,506.8 L1096.2,503.8 L1097.7,501.1 L1099.2,498.7 L1100.7,496.5 L1102.2,494.7 L1103.7,493.3 L1105.2,492.2 L1106.7,491.5 L1108.2,491.1 L1109.7,491.1 L1111.2,491.4 L1112.7,491.9 L1114.2,492.7 L1115.7,493.8 L1117.2,495.0 L1118.7,496.5 L1120.2,498.2 L1121.7,500.1 L1123.2,502.1 L1124.7,504.4 L1126.2,506.7 L1127.7,509.2 L1129.2,511.8 L1130.7,514.4 L1132.2,517.1 L1133.7,519.8 L1135.2,522.5 L1136.7,525.2 L1138.2,527.8 L1139.7,530.3 L1141.2,532.6 L1142.7,534.8 L1144.2,536.9 L1145.7,538.7 L1147.2,540.3 L1148.7,541.6 L1150.2,542.6 L1151.7,543.3 L1153.2,543.6 L1154.7,543.6 L1156.2,543.2 L1157.7,542.4 L1159.2,541.1 L1160.7,539.5 L1162.2,537.4 L1163.7,534.8 L1165.2,531.8 L1166.7,528.4 L1168.2,524.5 L1169.7,520.3 L1171.2,515.6 L1172.7,510.5 L1174.2,505.1 L1175.7,499.3 L1177.2,493.3 L1178.7,487.0 L1180.2,480.5 L1181.7,473.9 L1183.2,467.2 L1184.7,460.4 L1186.2,453.7 L1187.7,447.0 L1189.2,440.5 L1190.7,434.1 L1192.2,428.1 L1193.7,422.3 L1195.2,416.9 L1196.7,412.0 L1198.2,407.5 L1199.7,403.6 L1201.2,400.3 L1202.7,397.6 L1204.2,395.5 L1205.7,394.1 L1207.2,393.4 L1208.7,393.4 L1210.2,394.2 L1211.7,395.7 L1213.2,397.9 L1214.7,400.9 L1216.2,404.6 L1217.7,409.0 L1219.2,413.9 L1220.7,419.5 L1222.2,425.6 L1223.7,432.1 L1225.2,439.0 L1226.7,446.3 L1228.2,453.9 L1229.7,461.7 L1231.2,469.6 L1232.7,477.6 L1234.2,485.7 L1235.7,493.7 L1237.2,501.7 L1238.7,509.5 L1240.2,517.2 L1241.7,524.6 L1243.2,531.8 L1244.7,538.8 L1246.2,545.4 L1247.7,551.7 L1249.2,557.7 L1250.7,563.3 L1252.2,568.6 L1253.7,573.6 L1255.2,578.1 L1256.7,582.4 L1258.2,586.3 L1259.7,589.9 L1261.2,593.1 L1262.7,596.1 L1264.2,598.8 L1265.7,601.2 L1267.2,603.4 L1268.7,605.4 L1270.2,607.1 L1271.7,608.6 L1273.2,610.0 L1274.7,611.2 L1276.2,612.2 L1277.7,613.1 L1279.2,613.9 L1280.7,614.6 L1282.2,615.2 L1283.7,615.7 L1285.2,616.1 L1286.7,616.5 L1288.2,616.8 L1289.7,617.0 L1291.2,617.3 L1292.7,617.4 L1294.2,617.6 L1295.7,617.7 L1297.2,617.8 L1298.7,617.9 L1300.2,618.0 L1301.7,618.1 L1303.2,618.1 L1304.7,618.1 L1306.2,618.2 L1318.2,618.3" fill="none" stroke="#000" stroke-width="1.9" stroke-linejoin="round"/>
<path d="M683.7,618.3 L1003.2,618.2 L1004.7,618.1 L1006.2,618.1 L1007.7,618.0 L1009.2,618.0 L1010.7,617.9 L1012.2,617.9 L1013.7,617.8 L1015.2,617.7 L1016.7,617.6 L1018.2,617.5 L1019.7,617.3 L1021.2,617.2 L1022.7,617.0 L1024.2,616.7 L1025.7,616.5 L1027.2,616.2 L1028.7,615.9 L1030.2,615.5 L1031.7,615.1 L1033.2,614.6 L1034.7,614.1 L1036.2,613.5 L1037.7,612.9 L1039.2,612.1 L1040.7,611.3 L1042.2,610.4 L1043.7,609.4 L1045.2,608.3 L1046.7,607.2 L1048.2,605.9 L1049.7,604.4 L1051.2,602.9 L1052.7,601.2 L1054.2,599.4 L1055.7,597.5 L1057.2,595.4 L1058.7,593.2 L1060.2,590.8 L1061.7,588.3 L1063.2,585.7 L1064.7,582.9 L1066.2,579.9 L1067.7,576.9 L1069.2,573.7 L1070.7,570.3 L1072.2,566.9 L1073.7,563.3 L1075.2,559.7 L1076.7,555.9 L1078.2,552.1 L1079.7,548.3 L1081.2,544.4 L1082.7,540.5 L1084.2,536.6 L1085.7,532.7 L1087.2,528.9 L1088.7,525.1 L1090.2,521.5 L1091.7,517.9 L1093.2,514.5 L1094.7,511.2 L1096.2,508.2 L1097.7,505.3 L1099.2,502.6 L1100.7,500.2 L1102.2,498.1 L1103.7,496.2 L1105.2,494.6 L1106.7,493.3 L1108.2,492.3 L1109.7,491.7 L1111.2,491.3 L1112.7,491.3 L1114.2,491.6 L1115.7,492.3 L1117.2,493.3 L1118.7,494.6 L1120.2,496.3 L1121.7,498.3 L1123.2,500.5 L1124.7,503.0 L1126.2,505.8 L1127.7,508.7 L1129.2,511.9 L1130.7,515.2 L1132.2,518.7 L1133.7,522.3 L1135.2,526.0 L1136.7,529.8 L1138.2,533.5 L1139.7,537.3 L1141.2,541.1 L1142.7,544.8 L1144.2,548.4 L1145.7,551.9 L1147.2,555.3 L1148.7,558.5 L1150.2,561.6 L1151.7,564.5 L1153.2,567.1 L1154.7,569.5 L1156.2,571.7 L1157.7,573.6 L1159.2,575.3 L1160.7,576.6 L1162.2,577.7 L1163.7,578.5 L1165.2,579.0 L1166.7,579.2 L1168.2,579.1 L1169.7,578.7 L1171.2,578.1 L1172.7,577.2 L1174.2,576.0 L1175.7,574.6 L1177.2,573.0 L1178.7,571.1 L1180.2,569.1 L1181.7,566.9 L1183.2,564.6 L1184.7,562.1 L1186.2,559.6 L1187.7,557.1 L1189.2,554.5 L1190.7,551.9 L1192.2,549.4 L1193.7,547.0 L1195.2,544.7 L1196.7,542.5 L1198.2,540.5 L1199.7,538.6 L1201.2,537.0 L1202.7,535.7 L1204.2,534.5 L1205.7,533.7 L1207.2,533.2 L1208.7,532.9 L1210.2,533.0 L1211.7,533.4 L1213.2,534.3 L1214.7,535.4 L1216.2,537.0 L1217.7,538.9 L1219.2,541.1 L1220.7,543.5 L1222.2,546.3 L1223.7,549.2 L1225.2,552.4 L1226.7,555.6 L1228.2,559.0 L1229.7,562.5 L1231.2,566.0 L1232.7,569.5 L1234.2,573.0 L1235.7,576.5 L1237.2,579.8 L1238.7,583.1 L1240.2,586.2 L1241.7,589.2 L1243.2,592.0 L1244.7,594.7 L1246.2,597.2 L1247.7,599.5 L1249.2,601.6 L1250.7,603.6 L1252.2,605.4 L1253.7,607.0 L1255.2,608.5 L1256.7,609.8 L1258.2,611.0 L1259.7,612.0 L1261.2,612.9 L1262.7,613.7 L1264.2,614.4 L1265.7,615.0 L1267.2,615.6 L1268.7,616.0 L1270.2,616.4 L1271.7,616.7 L1273.2,617.0 L1274.7,617.2 L1276.2,617.4 L1277.7,617.6 L1279.2,617.7 L1280.7,617.8 L1282.2,617.9 L1283.7,618.0 L1285.2,618.1 L1286.7,618.1 L1288.2,618.2 L1318.2,618.3" fill="none" stroke="#861a17" stroke-width="3.6" stroke-linejoin="round"/>
<defs><linearGradient id="s2a" gradientUnits="userSpaceOnUse" x1="0" y1="686" x2="0" y2="923.9"><stop offset="0" stop-color="#f2efeb"/><stop offset="1" stop-color="#e7e5e3"/></linearGradient></defs>
<defs><linearGradient id="s2b" gradientUnits="userSpaceOnUse" x1="0" y1="686" x2="0" y2="923.9"><stop offset="0" stop-color="#ded8d2"/><stop offset="0.5" stop-color="#d4cfcc"/><stop offset="1" stop-color="#c8c6c5"/></linearGradient></defs>
<defs><linearGradient id="s2c" gradientUnits="userSpaceOnUse" x1="0" y1="686" x2="0" y2="923.9"><stop offset="0" stop-color="#e2d0c7"/><stop offset="0.5" stop-color="#d3c6c2"/><stop offset="1" stop-color="#c4bcba"/></linearGradient></defs>
<defs><linearGradient id="s2d" gradientUnits="userSpaceOnUse" x1="0" y1="686" x2="0" y2="923.9"><stop offset="0" stop-color="#c0b0aa"/><stop offset="0.5" stop-color="#b2a7a4"/><stop offset="1" stop-color="#a7a2a1"/></linearGradient></defs>
<path d="M683.7,923.9 L880.2,923.8 L881.7,923.7 L883.2,923.7 L884.7,923.7 L886.2,923.6 L887.7,923.5 L889.2,923.5 L890.7,923.4 L892.2,923.3 L893.7,923.2 L895.2,923.0 L896.7,922.9 L898.2,922.7 L899.7,922.5 L901.2,922.2 L902.7,921.9 L904.2,921.6 L905.7,921.2 L907.2,920.8 L908.7,920.3 L910.2,919.8 L911.7,919.2 L913.2,918.5 L914.7,917.7 L916.2,916.8 L917.7,915.9 L919.2,914.8 L920.7,913.6 L922.2,912.3 L923.7,910.8 L925.2,909.3 L926.7,907.6 L928.2,905.7 L929.7,903.7 L931.2,901.5 L932.7,899.2 L934.2,896.7 L935.7,894.0 L937.2,891.2 L938.7,888.2 L940.2,885.1 L941.7,881.8 L943.2,878.3 L944.7,874.7 L946.2,871.0 L947.7,867.2 L949.2,863.3 L950.7,859.2 L952.2,855.2 L953.7,851.0 L955.2,846.9 L956.7,842.7 L958.2,838.6 L959.7,834.5 L961.2,830.5 L962.7,826.6 L964.2,822.9 L965.7,819.3 L967.2,815.8 L968.7,812.6 L970.2,809.7 L971.7,807.0 L973.2,804.6 L974.7,802.4 L976.2,800.6 L977.7,799.2 L979.2,798.1 L980.7,797.3 L982.2,797.0 L983.7,796.9 L985.2,797.4 L986.7,798.3 L988.2,799.6 L989.7,801.3 L991.2,803.4 L992.7,806.0 L994.2,808.4 L995.7,810.5 L997.2,812.9 L998.7,815.3 L1000.2,818.0 L1001.7,820.8 L1003.2,823.6 L1004.7,826.5 L1006.2,829.5 L1007.7,832.5 L1009.2,835.4 L1010.7,838.2 L1012.2,841.0 L1013.7,843.7 L1015.2,846.2 L1016.7,848.6 L1018.2,850.8 L1019.7,852.7 L1021.2,854.5 L1022.7,856.0 L1024.2,857.2 L1025.7,858.2 L1027.2,858.8 L1028.7,859.2 L1030.2,859.3 L1031.7,859.1 L1033.2,858.5 L1034.7,857.7 L1036.2,856.6 L1037.7,855.1 L1039.2,853.3 L1040.7,851.3 L1042.2,848.9 L1043.7,846.3 L1045.2,843.4 L1046.7,840.2 L1048.2,836.8 L1049.7,833.1 L1051.2,829.2 L1052.7,825.1 L1054.2,820.8 L1055.7,816.2 L1057.2,811.6 L1058.7,806.7 L1060.2,801.8 L1061.7,796.7 L1063.2,791.5 L1064.7,786.2 L1066.2,780.9 L1067.7,775.5 L1069.2,770.2 L1070.7,764.8 L1072.2,759.4 L1073.7,754.1 L1075.2,748.8 L1076.7,743.6 L1078.2,738.5 L1079.7,733.6 L1081.2,728.7 L1082.7,724.1 L1084.2,719.4 L1085.7,714.9 L1087.2,710.7 L1088.7,706.8 L1090.2,703.2 L1091.7,700.0 L1093.2,697.1 L1094.7,694.5 L1096.2,692.3 L1097.7,690.4 L1099.2,688.6 L1100.7,687.2 L1102.2,686.1 L1103.7,685.3 L1105.2,684.9 L1106.7,684.9 L1108.2,685.3 L1109.7,686.0 L1111.2,687.2 L1112.7,688.8 L1114.2,690.7 L1115.7,693.1 L1117.2,695.8 L1118.7,698.8 L1120.2,702.2 L1121.7,705.8 L1123.2,709.8 L1124.7,714.1 L1126.2,718.6 L1127.7,723.3 L1129.2,728.2 L1130.7,733.3 L1132.2,738.5 L1133.7,743.8 L1135.2,749.3 L1136.7,754.7 L1138.2,760.2 L1139.7,765.7 L1141.2,771.1 L1142.7,776.5 L1144.2,781.7 L1145.7,786.8 L1147.2,791.8 L1148.7,796.5 L1150.2,801.0 L1151.7,805.2 L1153.2,809.2 L1154.7,812.8 L1156.2,816.0 L1157.7,818.9 L1159.2,821.4 L1160.7,823.4 L1162.2,825.0 L1163.7,826.2 L1165.2,826.9 L1166.7,827.1 L1168.2,826.8 L1169.7,826.1 L1171.2,824.9 L1172.7,823.3 L1174.2,821.2 L1175.7,818.7 L1177.2,815.8 L1178.7,812.6 L1180.2,809.0 L1181.7,805.2 L1183.2,801.2 L1184.7,797.0 L1186.2,792.7 L1187.7,788.3 L1189.2,784.0 L1190.7,779.7 L1192.2,775.6 L1193.7,771.6 L1195.2,768.0 L1196.7,764.6 L1198.2,761.6 L1199.7,759.1 L1201.2,757.0 L1202.7,755.4 L1204.2,754.4 L1205.7,753.9 L1207.2,754.1 L1208.7,754.7 L1210.2,755.6 L1211.7,756.8 L1213.2,758.3 L1214.7,760.1 L1216.2,762.2 L1217.7,764.5 L1219.2,767.1 L1220.7,770.0 L1222.2,773.1 L1223.7,776.4 L1225.2,779.9 L1226.7,783.7 L1228.2,787.6 L1229.7,791.6 L1231.2,795.8 L1232.7,800.1 L1234.2,804.5 L1235.7,809.0 L1237.2,813.5 L1238.7,818.1 L1240.2,822.7 L1241.7,827.2 L1243.2,831.8 L1244.7,836.3 L1246.2,840.8 L1247.7,845.2 L1249.2,849.5 L1250.7,853.8 L1252.2,857.9 L1253.7,861.9 L1255.2,865.8 L1256.7,869.6 L1258.2,873.2 L1259.7,876.6 L1261.2,880.0 L1262.7,883.2 L1264.2,886.2 L1265.7,889.0 L1267.2,891.8 L1268.7,894.3 L1270.2,896.8 L1271.7,899.0 L1273.2,901.2 L1274.7,903.1 L1276.2,905.0 L1277.7,906.7 L1279.2,908.3 L1280.7,909.8 L1282.2,911.2 L1283.7,912.4 L1285.2,913.6 L1286.7,914.6 L1288.2,915.6 L1289.7,916.5 L1291.2,917.3 L1292.7,918.0 L1294.2,918.7 L1295.7,919.3 L1297.2,919.8 L1298.7,920.3 L1300.2,920.7 L1301.7,921.1 L1303.2,921.4 L1304.7,921.7 L1306.2,922.0 L1307.7,922.3 L1309.2,922.5 L1310.7,922.7 L1312.2,922.8 L1313.7,923.0 L1315.2,923.1 L1316.7,923.2 L1318.2,923.3 L1318.2,923.9 L683.7,923.9 Z" fill="url(#s2a)"/>
<path d="M683.7,923.9 L880.2,923.8 L881.7,923.7 L883.2,923.7 L884.7,923.7 L886.2,923.6 L887.7,923.5 L889.2,923.5 L890.7,923.4 L892.2,923.3 L893.7,923.2 L895.2,923.0 L896.7,922.9 L898.2,922.7 L899.7,922.5 L901.2,922.2 L902.7,921.9 L904.2,921.6 L905.7,921.2 L907.2,920.8 L908.7,920.3 L910.2,919.8 L911.7,919.2 L913.2,918.5 L914.7,917.7 L916.2,916.8 L917.7,915.9 L919.2,914.8 L920.7,913.6 L922.2,912.3 L923.7,910.8 L925.2,909.3 L926.7,907.6 L928.2,905.7 L929.7,903.7 L931.2,901.5 L932.7,899.2 L934.2,896.7 L935.7,894.0 L937.2,891.2 L938.7,888.2 L940.2,885.1 L941.7,881.8 L943.2,878.3 L944.7,874.7 L946.2,871.0 L947.7,867.2 L949.2,863.3 L950.7,859.2 L952.2,855.2 L953.7,851.0 L955.2,846.9 L956.7,842.7 L958.2,838.6 L959.7,834.5 L961.2,830.5 L962.7,826.6 L964.2,822.9 L965.7,819.3 L967.2,815.8 L968.7,812.6 L970.2,809.7 L971.7,807.0 L973.2,804.6 L974.7,802.4 L976.2,800.6 L977.7,799.2 L979.2,798.1 L980.7,797.3 L982.2,797.0 L983.7,796.9 L985.2,797.4 L986.7,798.3 L988.2,799.6 L989.7,801.3 L991.2,803.4 L992.7,806.0 L994.2,808.8 L995.7,812.0 L997.2,815.5 L998.7,819.3 L1000.2,823.3 L1001.7,827.5 L1003.2,831.8 L1004.7,836.2 L1006.2,840.8 L1007.7,845.3 L1009.2,849.9 L1010.7,854.5 L1012.2,859.0 L1013.7,863.4 L1015.2,867.8 L1016.7,872.0 L1018.2,876.0 L1019.7,879.9 L1021.2,883.6 L1022.7,887.2 L1024.2,890.5 L1025.7,893.7 L1027.2,896.6 L1028.7,899.4 L1030.2,901.9 L1031.7,904.3 L1033.2,906.4 L1034.7,908.4 L1036.2,910.2 L1037.7,911.9 L1039.2,913.3 L1040.7,914.7 L1042.2,915.9 L1043.7,916.9 L1045.2,917.9 L1046.7,918.7 L1048.2,919.4 L1049.7,920.1 L1051.2,920.6 L1052.7,921.1 L1054.2,921.5 L1055.7,921.9 L1057.2,922.2 L1058.7,922.5 L1060.2,922.7 L1061.7,922.9 L1063.2,923.0 L1064.7,923.2 L1066.2,923.3 L1067.7,923.4 L1069.2,923.4 L1070.7,923.5 L1072.2,923.5 L1073.7,923.5 L1075.2,923.6 L1076.7,923.6 L1078.2,923.6 L1079.7,923.5 L1081.2,923.5 L1082.7,923.5 L1084.2,923.5 L1085.7,923.4 L1087.2,923.4 L1088.7,923.3 L1090.2,923.2 L1091.7,923.2 L1093.2,923.1 L1094.7,923.0 L1096.2,922.9 L1097.7,922.7 L1099.2,922.6 L1100.7,922.5 L1102.2,922.3 L1103.7,922.1 L1105.2,921.9 L1106.7,921.7 L1108.2,921.5 L1109.7,921.3 L1111.2,921.0 L1112.7,920.7 L1114.2,920.4 L1115.7,920.1 L1117.2,919.7 L1118.7,919.3 L1120.2,918.9 L1121.7,918.5 L1123.2,918.0 L1124.7,917.5 L1126.2,916.9 L1127.7,916.4 L1129.2,915.8 L1130.7,915.1 L1132.2,914.5 L1133.7,913.7 L1135.2,913.0 L1136.7,912.2 L1138.2,911.4 L1139.7,910.5 L1141.2,909.6 L1142.7,908.7 L1144.2,907.7 L1145.7,906.7 L1147.2,905.7 L1148.7,904.6 L1150.2,903.5 L1151.7,902.4 L1153.2,901.2 L1154.7,900.0 L1156.2,898.8 L1157.7,897.6 L1159.2,896.3 L1160.7,895.1 L1162.2,893.8 L1163.7,892.5 L1165.2,891.2 L1166.7,889.9 L1168.2,888.7 L1169.7,887.4 L1171.2,886.1 L1172.7,884.9 L1174.2,883.7 L1175.7,882.5 L1177.2,881.3 L1178.7,880.2 L1180.2,879.1 L1181.7,878.1 L1183.2,877.1 L1184.7,876.2 L1186.2,875.3 L1187.7,874.5 L1189.2,873.7 L1190.7,873.0 L1192.2,872.4 L1193.7,871.9 L1195.2,871.4 L1196.7,871.0 L1198.2,870.7 L1199.7,870.5 L1201.2,870.4 L1202.7,870.3 L1204.2,870.3 L1205.7,870.5 L1207.2,870.7 L1208.7,871.1 L1210.2,871.6 L1211.7,872.1 L1213.2,872.8 L1214.7,873.6 L1216.2,874.4 L1217.7,875.4 L1219.2,876.4 L1220.7,877.5 L1222.2,878.6 L1223.7,879.9 L1225.2,881.2 L1226.7,882.5 L1228.2,883.9 L1229.7,885.3 L1231.2,886.7 L1232.7,888.2 L1234.2,889.6 L1235.7,891.1 L1237.2,892.6 L1238.7,894.0 L1240.2,895.5 L1241.7,897.0 L1243.2,898.4 L1244.7,899.8 L1246.2,901.1 L1247.7,902.5 L1249.2,903.8 L1250.7,905.0 L1252.2,906.3 L1253.7,907.4 L1255.2,908.6 L1256.7,909.6 L1258.2,910.7 L1259.7,911.7 L1261.2,912.6 L1262.7,913.5 L1264.2,914.3 L1265.7,915.1 L1267.2,915.8 L1268.7,916.5 L1270.2,917.2 L1271.7,917.8 L1273.2,918.3 L1274.7,918.8 L1276.2,919.3 L1277.7,919.8 L1279.2,920.2 L1280.7,920.5 L1282.2,920.9 L1283.7,921.2 L1285.2,921.5 L1286.7,921.8 L1288.2,922.0 L1289.7,922.2 L1291.2,922.4 L1292.7,922.6 L1294.2,922.7 L1295.7,922.9 L1297.2,923.0 L1298.7,923.1 L1300.2,923.2 L1301.7,923.3 L1303.2,923.4 L1304.7,923.4 L1306.2,923.5 L1307.7,923.6 L1309.2,923.6 L1310.7,923.6 L1312.2,923.7 L1313.7,923.7 L1315.2,923.7 L1316.7,923.8 L1318.2,923.8 L1318.2,923.9 L683.7,923.9 Z" fill="url(#s2b)"/>
<path d="M683.7,923.9 L964.2,923.8 L965.7,923.7 L967.2,923.7 L968.7,923.7 L970.2,923.7 L971.7,923.6 L973.2,923.6 L974.7,923.5 L976.2,923.4 L977.7,923.4 L979.2,923.3 L980.7,923.2 L982.2,923.1 L983.7,923.0 L985.2,922.8 L986.7,922.7 L988.2,922.5 L989.7,922.3 L991.2,922.1 L992.7,921.8 L994.2,921.6 L995.7,921.3 L997.2,920.9 L998.7,920.5 L1000.2,920.1 L1001.7,919.6 L1003.2,919.1 L1004.7,918.5 L1006.2,917.8 L1007.7,917.1 L1009.2,916.3 L1010.7,915.4 L1012.2,914.5 L1013.7,913.4 L1015.2,912.3 L1016.7,911.1 L1018.2,909.7 L1019.7,908.3 L1021.2,906.7 L1022.7,905.0 L1024.2,903.1 L1025.7,901.1 L1027.2,899.0 L1028.7,896.7 L1030.2,894.3 L1031.7,891.7 L1033.2,889.0 L1034.7,886.0 L1036.2,882.9 L1037.7,879.6 L1039.2,876.2 L1040.7,872.5 L1042.2,868.7 L1043.7,864.7 L1045.2,860.5 L1046.7,856.1 L1048.2,851.5 L1049.7,846.8 L1051.2,841.9 L1052.7,836.9 L1054.2,831.7 L1055.7,826.3 L1057.2,820.8 L1058.7,815.2 L1060.2,809.5 L1061.7,803.8 L1063.2,797.9 L1064.7,792.0 L1066.2,786.0 L1067.7,780.1 L1069.2,774.1 L1070.7,768.1 L1072.2,762.2 L1073.7,756.4 L1075.2,750.6 L1076.7,745.0 L1078.2,739.5 L1079.7,734.2 L1081.2,729.0 L1082.7,724.1 L1084.2,719.4 L1085.7,714.9 L1087.2,710.7 L1088.7,706.8 L1090.2,703.2 L1091.7,700.0 L1093.2,697.1 L1094.7,694.5 L1096.2,692.3 L1097.7,690.5 L1099.2,689.1 L1100.7,688.1 L1102.2,687.6 L1103.7,687.4 L1105.2,687.6 L1106.7,688.3 L1108.2,689.5 L1109.7,691.1 L1111.2,693.2 L1112.7,695.6 L1114.2,698.5 L1115.7,701.8 L1117.2,705.4 L1118.7,709.4 L1120.2,713.7 L1121.7,718.3 L1123.2,723.2 L1124.7,728.3 L1126.2,733.6 L1127.7,739.2 L1129.2,744.8 L1130.7,750.6 L1132.2,756.5 L1133.7,762.5 L1135.2,768.5 L1136.7,774.4 L1138.2,780.4 L1139.7,786.2 L1141.2,792.0 L1142.7,797.6 L1144.2,803.1 L1145.7,808.4 L1147.2,813.5 L1148.7,818.3 L1150.2,822.9 L1151.7,827.3 L1153.2,831.3 L1154.7,835.0 L1156.2,838.4 L1157.7,841.4 L1159.2,844.1 L1160.7,846.4 L1162.2,848.3 L1163.7,849.9 L1165.2,851.1 L1166.7,851.9 L1168.2,852.4 L1169.7,852.5 L1171.2,852.2 L1172.7,851.6 L1174.2,850.8 L1175.7,849.6 L1177.2,848.1 L1178.7,846.4 L1180.2,844.5 L1181.7,842.4 L1183.2,840.2 L1184.7,837.8 L1186.2,835.4 L1187.7,832.9 L1189.2,830.4 L1190.7,828.0 L1192.2,825.6 L1193.7,823.3 L1195.2,821.1 L1196.7,819.2 L1198.2,817.4 L1199.7,815.9 L1201.2,814.6 L1202.7,813.7 L1204.2,813.0 L1205.7,812.7 L1207.2,812.7 L1208.7,813.0 L1210.2,813.7 L1211.7,814.8 L1213.2,816.2 L1214.7,818.0 L1216.2,820.1 L1217.7,822.6 L1219.2,825.4 L1220.7,828.4 L1222.2,831.7 L1223.7,835.1 L1225.2,838.8 L1226.7,842.6 L1228.2,846.5 L1229.7,850.6 L1231.2,854.6 L1232.7,858.7 L1234.2,862.8 L1235.7,866.8 L1237.2,870.7 L1238.7,874.6 L1240.2,878.4 L1241.7,882.0 L1243.2,885.5 L1244.7,888.8 L1246.2,891.9 L1247.7,894.9 L1249.2,897.7 L1250.7,900.3 L1252.2,902.8 L1253.7,905.0 L1255.2,907.1 L1256.7,909.0 L1258.2,910.8 L1259.7,912.3 L1261.2,913.8 L1262.7,915.0 L1264.2,916.2 L1265.7,917.2 L1267.2,918.1 L1268.7,918.9 L1270.2,919.6 L1271.7,920.3 L1273.2,920.8 L1274.7,921.3 L1276.2,921.7 L1277.7,922.0 L1279.2,922.3 L1280.7,922.6 L1282.2,922.8 L1283.7,923.0 L1285.2,923.2 L1286.7,923.3 L1288.2,923.4 L1289.7,923.5 L1291.2,923.6 L1292.7,923.6 L1294.2,923.7 L1295.7,923.7 L1297.2,923.8 L1318.2,923.9 L1318.2,923.9 L683.7,923.9 Z" fill="url(#s2c)"/>
<path d="M683.7,923.9 L964.2,923.8 L965.7,923.7 L967.2,923.7 L968.7,923.7 L970.2,923.7 L971.7,923.6 L973.2,923.6 L974.7,923.5 L976.2,923.4 L977.7,923.4 L979.2,923.3 L980.7,923.2 L982.2,923.1 L983.7,923.0 L985.2,922.8 L986.7,922.7 L988.2,922.5 L989.7,922.3 L991.2,922.1 L992.7,921.8 L994.2,921.6 L995.7,921.3 L997.2,920.9 L998.7,920.5 L1000.2,920.1 L1001.7,919.6 L1003.2,919.1 L1004.7,918.5 L1006.2,917.8 L1007.7,917.1 L1009.2,916.3 L1010.7,915.4 L1012.2,914.5 L1013.7,913.4 L1015.2,912.3 L1016.7,911.1 L1018.2,909.7 L1019.7,908.3 L1021.2,906.7 L1022.7,905.0 L1024.2,903.1 L1025.7,901.1 L1027.2,899.0 L1028.7,899.4 L1030.2,901.9 L1031.7,904.3 L1033.2,906.4 L1034.7,908.4 L1036.2,910.2 L1037.7,911.9 L1039.2,913.3 L1040.7,914.7 L1042.2,915.9 L1043.7,916.9 L1045.2,917.9 L1046.7,918.7 L1048.2,919.4 L1049.7,920.1 L1051.2,920.6 L1052.7,921.1 L1054.2,921.5 L1055.7,921.9 L1057.2,922.2 L1058.7,922.5 L1060.2,922.7 L1061.7,922.9 L1063.2,923.0 L1064.7,923.2 L1066.2,923.3 L1067.7,923.4 L1069.2,923.4 L1070.7,923.5 L1072.2,923.5 L1073.7,923.5 L1075.2,923.6 L1076.7,923.6 L1078.2,923.6 L1079.7,923.5 L1081.2,923.5 L1082.7,923.5 L1084.2,923.5 L1085.7,923.4 L1087.2,923.4 L1088.7,923.3 L1090.2,923.2 L1091.7,923.2 L1093.2,923.1 L1094.7,923.0 L1096.2,922.9 L1097.7,922.7 L1099.2,922.6 L1100.7,922.5 L1102.2,922.3 L1103.7,922.1 L1105.2,921.9 L1106.7,921.7 L1108.2,921.5 L1109.7,921.3 L1111.2,921.0 L1112.7,920.7 L1114.2,920.4 L1115.7,920.1 L1117.2,919.7 L1118.7,919.3 L1120.2,918.9 L1121.7,918.5 L1123.2,918.0 L1124.7,917.5 L1126.2,916.9 L1127.7,916.4 L1129.2,915.8 L1130.7,915.1 L1132.2,914.5 L1133.7,913.7 L1135.2,913.0 L1136.7,912.2 L1138.2,911.4 L1139.7,910.5 L1141.2,909.6 L1142.7,908.7 L1144.2,907.7 L1145.7,906.7 L1147.2,905.7 L1148.7,904.6 L1150.2,903.5 L1151.7,902.4 L1153.2,901.2 L1154.7,900.0 L1156.2,898.8 L1157.7,897.6 L1159.2,896.3 L1160.7,895.1 L1162.2,893.8 L1163.7,892.5 L1165.2,891.2 L1166.7,889.9 L1168.2,888.7 L1169.7,887.4 L1171.2,886.1 L1172.7,884.9 L1174.2,883.7 L1175.7,882.5 L1177.2,881.3 L1178.7,880.2 L1180.2,879.1 L1181.7,878.1 L1183.2,877.1 L1184.7,876.2 L1186.2,875.3 L1187.7,874.5 L1189.2,873.7 L1190.7,873.0 L1192.2,872.4 L1193.7,871.9 L1195.2,871.4 L1196.7,871.0 L1198.2,870.7 L1199.7,870.5 L1201.2,870.4 L1202.7,870.3 L1204.2,870.3 L1205.7,870.5 L1207.2,870.7 L1208.7,871.1 L1210.2,871.6 L1211.7,872.1 L1213.2,872.8 L1214.7,873.6 L1216.2,874.4 L1217.7,875.4 L1219.2,876.4 L1220.7,877.5 L1222.2,878.6 L1223.7,879.9 L1225.2,881.2 L1226.7,882.5 L1228.2,883.9 L1229.7,885.3 L1231.2,886.7 L1232.7,888.2 L1234.2,889.6 L1235.7,891.1 L1237.2,892.6 L1238.7,894.0 L1240.2,895.5 L1241.7,897.0 L1243.2,898.4 L1244.7,899.8 L1246.2,901.1 L1247.7,902.5 L1249.2,903.8 L1250.7,905.0 L1252.2,906.3 L1253.7,907.4 L1255.2,908.6 L1256.7,909.6 L1258.2,910.8 L1259.7,912.3 L1261.2,913.8 L1262.7,915.0 L1264.2,916.2 L1265.7,917.2 L1267.2,918.1 L1268.7,918.9 L1270.2,919.6 L1271.7,920.3 L1273.2,920.8 L1274.7,921.3 L1276.2,921.7 L1277.7,922.0 L1279.2,922.3 L1280.7,922.6 L1282.2,922.8 L1283.7,923.0 L1285.2,923.2 L1286.7,923.3 L1288.2,923.4 L1289.7,923.5 L1291.2,923.6 L1292.7,923.6 L1294.2,923.7 L1295.7,923.7 L1297.2,923.8 L1318.2,923.9 L1318.2,923.9 L683.7,923.9 Z" fill="url(#s2d)"/>
<rect x="682.6" y="923.9" width="637.5" height="4.3" fill="#e4dcdb"/>
<path d="M682.6,928.2 H1320.2" stroke="#000" stroke-width="2.7" fill="none"/>
<path d="M683.7,928.2 v14.5 M763.1,928.2 v8.0 M842.5,928.2 v14.5 M921.9,928.2 v8.0 M1001.4,928.2 v14.5 M1080.8,928.2 v8.0 M1160.2,928.2 v14.5 M1239.6,928.2 v8.0 M1319.0,928.2 v14.5 " stroke="#000" stroke-width="2.3" fill="none"/>
<text x="683.7" y="976.0" font-size="31.2" text-anchor="middle" fill="#000" >0.20</text>
<text x="842.5" y="976.0" font-size="31.2" text-anchor="middle" fill="#000" >0.15</text>
<text x="1001.4" y="976.0" font-size="31.2" text-anchor="middle" fill="#000" >0.10</text>
<text x="1160.2" y="976.0" font-size="31.2" text-anchor="middle" fill="#000" >0.05</text>
<text x="1319.0" y="976.0" font-size="31.2" text-anchor="middle" fill="#000" >0.00</text>
<path d="M683.7,923.9 L880.2,923.8 L881.7,923.7 L883.2,923.7 L884.7,923.7 L886.2,923.6 L887.7,923.5 L889.2,923.5 L890.7,923.4 L892.2,923.3 L893.7,923.2 L895.2,923.0 L896.7,922.9 L898.2,922.7 L899.7,922.5 L901.2,922.2 L902.7,921.9 L904.2,921.6 L905.7,921.2 L907.2,920.8 L908.7,920.3 L910.2,919.8 L911.7,919.2 L913.2,918.5 L914.7,917.7 L916.2,916.8 L917.7,915.9 L919.2,914.8 L920.7,913.6 L922.2,912.3 L923.7,910.8 L925.2,909.3 L926.7,907.6 L928.2,905.7 L929.7,903.7 L931.2,901.5 L932.7,899.2 L934.2,896.7 L935.7,894.0 L937.2,891.2 L938.7,888.2 L940.2,885.1 L941.7,881.8 L943.2,878.3 L944.7,874.7 L946.2,871.0 L947.7,867.2 L949.2,863.3 L950.7,859.2 L952.2,855.2 L953.7,851.0 L955.2,846.9 L956.7,842.7 L958.2,838.6 L959.7,834.5 L961.2,830.5 L962.7,826.6 L964.2,822.9 L965.7,819.3 L967.2,815.8 L968.7,812.6 L970.2,809.7 L971.7,807.0 L973.2,804.6 L974.7,802.4 L976.2,800.6 L977.7,799.2 L979.2,798.1 L980.7,797.3 L982.2,797.0 L983.7,796.9 L985.2,797.4 L986.7,798.3 L988.2,799.6 L989.7,801.3 L991.2,803.4 L992.7,806.0 L994.2,808.8 L995.7,812.0 L997.2,815.5 L998.7,819.3 L1000.2,823.3 L1001.7,827.5 L1003.2,831.8 L1004.7,836.2 L1006.2,840.8 L1007.7,845.3 L1009.2,849.9 L1010.7,854.5 L1012.2,859.0 L1013.7,863.4 L1015.2,867.8 L1016.7,872.0 L1018.2,876.0 L1019.7,879.9 L1021.2,883.6 L1022.7,887.2 L1024.2,890.5 L1025.7,893.7 L1027.2,896.6 L1028.7,899.4 L1030.2,901.9 L1031.7,904.3 L1033.2,906.4 L1034.7,908.4 L1036.2,910.2 L1037.7,911.9 L1039.2,913.3 L1040.7,914.7 L1042.2,915.9 L1043.7,916.9 L1045.2,917.9 L1046.7,918.7 L1048.2,919.4 L1049.7,920.1 L1051.2,920.6 L1052.7,921.1 L1054.2,921.5 L1055.7,921.9 L1057.2,922.2 L1058.7,922.5 L1060.2,922.7 L1061.7,922.9 L1063.2,923.0 L1064.7,923.2 L1066.2,923.3 L1067.7,923.4 L1069.2,923.4 L1070.7,923.5 L1072.2,923.5 L1073.7,923.5 L1075.2,923.6 L1076.7,923.6 L1078.2,923.6 L1079.7,923.5 L1081.2,923.5 L1082.7,923.5 L1084.2,923.5 L1085.7,923.4 L1087.2,923.4 L1088.7,923.3 L1090.2,923.2 L1091.7,923.2 L1093.2,923.1 L1094.7,923.0 L1096.2,922.9 L1097.7,922.7 L1099.2,922.6 L1100.7,922.5 L1102.2,922.3 L1103.7,922.1 L1105.2,921.9 L1106.7,921.7 L1108.2,921.5 L1109.7,921.3 L1111.2,921.0 L1112.7,920.7 L1114.2,920.4 L1115.7,920.1 L1117.2,919.7 L1118.7,919.3 L1120.2,918.9 L1121.7,918.5 L1123.2,918.0 L1124.7,917.5 L1126.2,916.9 L1127.7,916.4 L1129.2,915.8 L1130.7,915.1 L1132.2,914.5 L1133.7,913.7 L1135.2,913.0 L1136.7,912.2 L1138.2,911.4 L1139.7,910.5 L1141.2,909.6 L1142.7,908.7 L1144.2,907.7 L1145.7,906.7 L1147.2,905.7 L1148.7,904.6 L1150.2,903.5 L1151.7,902.4 L1153.2,901.2 L1154.7,900.0 L1156.2,898.8 L1157.7,897.6 L1159.2,896.3 L1160.7,895.1 L1162.2,893.8 L1163.7,892.5 L1165.2,891.2 L1166.7,889.9 L1168.2,888.7 L1169.7,887.4 L1171.2,886.1 L1172.7,884.9 L1174.2,883.7 L1175.7,882.5 L1177.2,881.3 L1178.7,880.2 L1180.2,879.1 L1181.7,878.1 L1183.2,877.1 L1184.7,876.2 L1186.2,875.3 L1187.7,874.5 L1189.2,873.7 L1190.7,873.0 L1192.2,872.4 L1193.7,871.9 L1195.2,871.4 L1196.7,871.0 L1198.2,870.7 L1199.7,870.5 L1201.2,870.4 L1202.7,870.3 L1204.2,870.3 L1205.7,870.5 L1207.2,870.7 L1208.7,871.1 L1210.2,871.6 L1211.7,872.1 L1213.2,872.8 L1214.7,873.6 L1216.2,874.4 L1217.7,875.4 L1219.2,876.4 L1220.7,877.5 L1222.2,878.6 L1223.7,879.9 L1225.2,881.2 L1226.7,882.5 L1228.2,883.9 L1229.7,885.3 L1231.2,886.7 L1232.7,888.2 L1234.2,889.6 L1235.7,891.1 L1237.2,892.6 L1238.7,894.0 L1240.2,895.5 L1241.7,897.0 L1243.2,898.4 L1244.7,899.8 L1246.2,901.1 L1247.7,902.5 L1249.2,903.8 L1250.7,905.0 L1252.2,906.3 L1253.7,907.4 L1255.2,908.6 L1256.7,909.6 L1258.2,910.7 L1259.7,911.7 L1261.2,912.6 L1262.7,913.5 L1264.2,914.3 L1265.7,915.1 L1267.2,915.8 L1268.7,916.5 L1270.2,917.2 L1271.7,917.8 L1273.2,918.3 L1274.7,918.8 L1276.2,919.3 L1277.7,919.8 L1279.2,920.2 L1280.7,920.5 L1282.2,920.9 L1283.7,921.2 L1285.2,921.5 L1286.7,921.8 L1288.2,922.0 L1289.7,922.2 L1291.2,922.4 L1292.7,922.6 L1294.2,922.7 L1295.7,922.9 L1297.2,923.0 L1298.7,923.1 L1300.2,923.2 L1301.7,923.3 L1303.2,923.4 L1304.7,923.4 L1306.2,923.5 L1307.7,923.6 L1309.2,923.6 L1310.7,923.6 L1312.2,923.7 L1313.7,923.7 L1315.2,923.7 L1316.7,923.8 L1318.2,923.8" fill="none" stroke="#807e7e" stroke-width="3.3" stroke-linejoin="round"/>
<path d="M683.7,923.9 L890.7,923.8 L892.2,923.7 L893.7,923.7 L895.2,923.6 L896.7,923.6 L898.2,923.5 L899.7,923.4 L901.2,923.3 L902.7,923.1 L904.2,923.0 L905.7,922.8 L907.2,922.6 L908.7,922.3 L910.2,922.0 L911.7,921.7 L913.2,921.3 L914.7,920.8 L916.2,920.3 L917.7,919.7 L919.2,919.0 L920.7,918.2 L922.2,917.3 L923.7,916.3 L925.2,915.2 L926.7,913.9 L928.2,912.5 L929.7,911.0 L931.2,909.3 L932.7,907.4 L934.2,905.3 L935.7,903.1 L937.2,900.7 L938.7,898.1 L940.2,895.3 L941.7,892.3 L943.2,889.1 L944.7,885.7 L946.2,882.2 L947.7,878.5 L949.2,874.6 L950.7,870.6 L952.2,866.5 L953.7,862.2 L955.2,857.9 L956.7,853.6 L958.2,849.2 L959.7,844.8 L961.2,840.4 L962.7,836.1 L964.2,832.0 L965.7,827.9 L967.2,824.1 L968.7,820.4 L970.2,817.0 L971.7,813.8 L973.2,811.0 L974.7,808.5 L976.2,806.3 L977.7,804.5 L979.2,803.1 L980.7,802.0 L982.2,801.4 L983.7,801.2 L985.2,801.3 L986.7,801.8 L988.2,802.5 L989.7,803.6 L991.2,804.9 L992.7,806.6 L994.2,808.4 L995.7,810.5 L997.2,812.9 L998.7,815.3 L1000.2,818.0 L1001.7,820.8 L1003.2,823.6 L1004.7,826.5 L1006.2,829.5 L1007.7,832.5 L1009.2,835.4 L1010.7,838.2 L1012.2,841.0 L1013.7,843.7 L1015.2,846.2 L1016.7,848.6 L1018.2,850.8 L1019.7,852.7 L1021.2,854.5 L1022.7,856.0 L1024.2,857.2 L1025.7,858.2 L1027.2,858.8 L1028.7,859.2 L1030.2,859.3 L1031.7,859.1 L1033.2,858.5 L1034.7,857.7 L1036.2,856.6 L1037.7,855.1 L1039.2,853.3 L1040.7,851.3 L1042.2,848.9 L1043.7,846.3 L1045.2,843.4 L1046.7,840.2 L1048.2,836.8 L1049.7,833.1 L1051.2,829.2 L1052.7,825.1 L1054.2,820.8 L1055.7,816.2 L1057.2,811.6 L1058.7,806.7 L1060.2,801.8 L1061.7,796.7 L1063.2,791.5 L1064.7,786.2 L1066.2,780.9 L1067.7,775.5 L1069.2,770.2 L1070.7,764.8 L1072.2,759.4 L1073.7,754.1 L1075.2,748.8 L1076.7,743.6 L1078.2,738.5 L1079.7,733.6 L1081.2,728.7 L1082.7,724.1 L1084.2,719.6 L1085.7,715.3 L1087.2,711.3 L1088.7,707.5 L1090.2,703.9 L1091.7,700.6 L1093.2,697.6 L1094.7,694.9 L1096.2,692.4 L1097.7,690.4 L1099.2,688.6 L1100.7,687.2 L1102.2,686.1 L1103.7,685.3 L1105.2,684.9 L1106.7,684.9 L1108.2,685.3 L1109.7,686.0 L1111.2,687.2 L1112.7,688.8 L1114.2,690.7 L1115.7,693.1 L1117.2,695.8 L1118.7,698.8 L1120.2,702.2 L1121.7,705.8 L1123.2,709.8 L1124.7,714.1 L1126.2,718.6 L1127.7,723.3 L1129.2,728.2 L1130.7,733.3 L1132.2,738.5 L1133.7,743.8 L1135.2,749.3 L1136.7,754.7 L1138.2,760.2 L1139.7,765.7 L1141.2,771.1 L1142.7,776.5 L1144.2,781.7 L1145.7,786.8 L1147.2,791.8 L1148.7,796.5 L1150.2,801.0 L1151.7,805.2 L1153.2,809.2 L1154.7,812.8 L1156.2,816.0 L1157.7,818.9 L1159.2,821.4 L1160.7,823.4 L1162.2,825.0 L1163.7,826.2 L1165.2,826.9 L1166.7,827.1 L1168.2,826.8 L1169.7,826.1 L1171.2,824.9 L1172.7,823.3 L1174.2,821.2 L1175.7,818.7 L1177.2,815.8 L1178.7,812.6 L1180.2,809.0 L1181.7,805.2 L1183.2,801.2 L1184.7,797.0 L1186.2,792.7 L1187.7,788.3 L1189.2,784.0 L1190.7,779.7 L1192.2,775.6 L1193.7,771.6 L1195.2,768.0 L1196.7,764.6 L1198.2,761.6 L1199.7,759.1 L1201.2,757.0 L1202.7,755.4 L1204.2,754.4 L1205.7,753.9 L1207.2,754.1 L1208.7,754.7 L1210.2,755.6 L1211.7,756.8 L1213.2,758.3 L1214.7,760.1 L1216.2,762.2 L1217.7,764.5 L1219.2,767.1 L1220.7,770.0 L1222.2,773.1 L1223.7,776.4 L1225.2,779.9 L1226.7,783.7 L1228.2,787.6 L1229.7,791.6 L1231.2,795.8 L1232.7,800.1 L1234.2,804.5 L1235.7,809.0 L1237.2,813.5 L1238.7,818.1 L1240.2,822.7 L1241.7,827.2 L1243.2,831.8 L1244.7,836.3 L1246.2,840.8 L1247.7,845.2 L1249.2,849.5 L1250.7,853.8 L1252.2,857.9 L1253.7,861.9 L1255.2,865.8 L1256.7,869.6 L1258.2,873.2 L1259.7,876.6 L1261.2,880.0 L1262.7,883.2 L1264.2,886.2 L1265.7,889.0 L1267.2,891.8 L1268.7,894.3 L1270.2,896.8 L1271.7,899.0 L1273.2,901.2 L1274.7,903.1 L1276.2,905.0 L1277.7,906.7 L1279.2,908.3 L1280.7,909.8 L1282.2,911.2 L1283.7,912.4 L1285.2,913.6 L1286.7,914.6 L1288.2,915.6 L1289.7,916.5 L1291.2,917.3 L1292.7,918.0 L1294.2,918.7 L1295.7,919.3 L1297.2,919.8 L1298.7,920.3 L1300.2,920.7 L1301.7,921.1 L1303.2,921.4 L1304.7,921.7 L1306.2,922.0 L1307.7,922.3 L1309.2,922.5 L1310.7,922.7 L1312.2,922.8 L1313.7,923.0 L1315.2,923.1 L1316.7,923.2 L1318.2,923.3" fill="none" stroke="#000" stroke-width="1.9" stroke-linejoin="round"/>
<path d="M683.7,923.9 L964.2,923.8 L965.7,923.7 L967.2,923.7 L968.7,923.7 L970.2,923.7 L971.7,923.6 L973.2,923.6 L974.7,923.5 L976.2,923.4 L977.7,923.4 L979.2,923.3 L980.7,923.2 L982.2,923.1 L983.7,923.0 L985.2,922.8 L986.7,922.7 L988.2,922.5 L989.7,922.3 L991.2,922.1 L992.7,921.8 L994.2,921.6 L995.7,921.3 L997.2,920.9 L998.7,920.5 L1000.2,920.1 L1001.7,919.6 L1003.2,919.1 L1004.7,918.5 L1006.2,917.8 L1007.7,917.1 L1009.2,916.3 L1010.7,915.4 L1012.2,914.5 L1013.7,913.4 L1015.2,912.3 L1016.7,911.1 L1018.2,909.7 L1019.7,908.3 L1021.2,906.7 L1022.7,905.0 L1024.2,903.1 L1025.7,901.1 L1027.2,899.0 L1028.7,896.7 L1030.2,894.3 L1031.7,891.7 L1033.2,889.0 L1034.7,886.0 L1036.2,882.9 L1037.7,879.6 L1039.2,876.2 L1040.7,872.5 L1042.2,868.7 L1043.7,864.7 L1045.2,860.5 L1046.7,856.1 L1048.2,851.5 L1049.7,846.8 L1051.2,841.9 L1052.7,836.9 L1054.2,831.7 L1055.7,826.3 L1057.2,820.8 L1058.7,815.2 L1060.2,809.5 L1061.7,803.8 L1063.2,797.9 L1064.7,792.0 L1066.2,786.0 L1067.7,780.1 L1069.2,774.1 L1070.7,768.1 L1072.2,762.2 L1073.7,756.4 L1075.2,750.6 L1076.7,745.0 L1078.2,739.5 L1079.7,734.2 L1081.2,729.0 L1082.7,724.1 L1084.2,719.4 L1085.7,714.9 L1087.2,710.7 L1088.7,706.8 L1090.2,703.2 L1091.7,700.0 L1093.2,697.1 L1094.7,694.5 L1096.2,692.3 L1097.7,690.5 L1099.2,689.1 L1100.7,688.1 L1102.2,687.6 L1103.7,687.4 L1105.2,687.6 L1106.7,688.3 L1108.2,689.5 L1109.7,691.1 L1111.2,693.2 L1112.7,695.6 L1114.2,698.5 L1115.7,701.8 L1117.2,705.4 L1118.7,709.4 L1120.2,713.7 L1121.7,718.3 L1123.2,723.2 L1124.7,728.3 L1126.2,733.6 L1127.7,739.2 L1129.2,744.8 L1130.7,750.6 L1132.2,756.5 L1133.7,762.5 L1135.2,768.5 L1136.7,774.4 L1138.2,780.4 L1139.7,786.2 L1141.2,792.0 L1142.7,797.6 L1144.2,803.1 L1145.7,808.4 L1147.2,813.5 L1148.7,818.3 L1150.2,822.9 L1151.7,827.3 L1153.2,831.3 L1154.7,835.0 L1156.2,838.4 L1157.7,841.4 L1159.2,844.1 L1160.7,846.4 L1162.2,848.3 L1163.7,849.9 L1165.2,851.1 L1166.7,851.9 L1168.2,852.4 L1169.7,852.5 L1171.2,852.2 L1172.7,851.6 L1174.2,850.8 L1175.7,849.6 L1177.2,848.1 L1178.7,846.4 L1180.2,844.5 L1181.7,842.4 L1183.2,840.2 L1184.7,837.8 L1186.2,835.4 L1187.7,832.9 L1189.2,830.4 L1190.7,828.0 L1192.2,825.6 L1193.7,823.3 L1195.2,821.1 L1196.7,819.2 L1198.2,817.4 L1199.7,815.9 L1201.2,814.6 L1202.7,813.7 L1204.2,813.0 L1205.7,812.7 L1207.2,812.7 L1208.7,813.0 L1210.2,813.7 L1211.7,814.8 L1213.2,816.2 L1214.7,818.0 L1216.2,820.1 L1217.7,822.6 L1219.2,825.4 L1220.7,828.4 L1222.2,831.7 L1223.7,835.1 L1225.2,838.8 L1226.7,842.6 L1228.2,846.5 L1229.7,850.6 L1231.2,854.6 L1232.7,858.7 L1234.2,862.8 L1235.7,866.8 L1237.2,870.7 L1238.7,874.6 L1240.2,878.4 L1241.7,882.0 L1243.2,885.5 L1244.7,888.8 L1246.2,891.9 L1247.7,894.9 L1249.2,897.7 L1250.7,900.3 L1252.2,902.8 L1253.7,905.0 L1255.2,907.1 L1256.7,909.0 L1258.2,910.8 L1259.7,912.3 L1261.2,913.8 L1262.7,915.0 L1264.2,916.2 L1265.7,917.2 L1267.2,918.1 L1268.7,918.9 L1270.2,919.6 L1271.7,920.3 L1273.2,920.8 L1274.7,921.3 L1276.2,921.7 L1277.7,922.0 L1279.2,922.3 L1280.7,922.6 L1282.2,922.8 L1283.7,923.0 L1285.2,923.2 L1286.7,923.3 L1288.2,923.4 L1289.7,923.5 L1291.2,923.6 L1292.7,923.6 L1294.2,923.7 L1295.7,923.7 L1297.2,923.8 L1318.2,923.9" fill="none" stroke="#861a17" stroke-width="3.6" stroke-linejoin="round"/>
<circle cx="829.6" cy="691.3" r="14.0" fill="url(#aB)"/>
<circle cx="829.6" cy="691.3" r="14.0" fill="#3a1c00" fill-opacity="0.12"/>
<circle cx="830.0" cy="690.9" r="1.3" fill="#ffe88a" fill-opacity="0.9"/>
<circle cx="863.8" cy="691.3" r="14.0" fill="url(#aB)"/>
<circle cx="863.8" cy="691.3" r="14.0" fill="#3a1c00" fill-opacity="0.12"/>
<circle cx="864.2" cy="690.9" r="1.3" fill="#ffe88a" fill-opacity="0.9"/>
<circle cx="846.0" cy="712.2" r="14.0" fill="url(#aY)"/>
<circle cx="846.0" cy="712.2" r="14.0" fill="#3a1c00" fill-opacity="0.12"/>
<circle cx="846.4" cy="711.5" r="1.3" fill="#ffe88a" fill-opacity="0.9"/>
<circle cx="863.8" cy="733.1" r="14.0" fill="url(#aB)"/>
<circle cx="863.8" cy="733.1" r="14.0" fill="#3a1c00" fill-opacity="0.12"/>
<circle cx="864.2" cy="732.1" r="1.3" fill="#ffe88a" fill-opacity="0.9"/>
<circle cx="846.0" cy="754.0" r="14.0" fill="url(#aY)"/>
<circle cx="846.0" cy="754.0" r="14.0" fill="#3a1c00" fill-opacity="0.12"/>
<circle cx="846.4" cy="752.7" r="1.3" fill="#ffe88a" fill-opacity="0.9"/>
<circle cx="865.1" cy="774.9" r="14.0" fill="url(#aW)"/>
<circle cx="865.1" cy="774.9" r="14.0" fill="#3a1c00" fill-opacity="0.12"/>
<circle cx="865.5" cy="773.3" r="1.3" fill="#ffe88a" fill-opacity="0.9"/>
<circle cx="846.0" cy="795.6" r="14.0" fill="url(#aR)"/>
<circle cx="846.0" cy="795.6" r="14.0" fill="#3a1c00" fill-opacity="0.12"/>
<circle cx="846.4" cy="793.7" r="1.3" fill="#ffe88a" fill-opacity="0.9"/>
<circle cx="865.1" cy="816.7" r="14.0" fill="url(#aW)"/>
<circle cx="865.1" cy="816.7" r="14.0" fill="#3a1c00" fill-opacity="0.12"/>
<circle cx="865.5" cy="814.5" r="1.3" fill="#ffe88a" fill-opacity="0.9"/>
<circle cx="846.0" cy="837.9" r="14.0" fill="url(#aY)"/>
<circle cx="846.0" cy="837.9" r="14.0" fill="#3a1c00" fill-opacity="0.12"/>
<circle cx="846.4" cy="835.4" r="1.3" fill="#ffe88a" fill-opacity="0.9"/>
<circle cx="863.8" cy="859.8" r="14.0" fill="url(#aB)"/>
<circle cx="863.8" cy="859.8" r="14.0" fill="#3a1c00" fill-opacity="0.12"/>
<circle cx="864.2" cy="857.0" r="1.3" fill="#ffe88a" fill-opacity="0.9"/>
<circle cx="846.0" cy="880.7" r="14.0" fill="url(#aY)"/>
<circle cx="846.0" cy="880.7" r="14.0" fill="#3a1c00" fill-opacity="0.12"/>
<circle cx="846.4" cy="877.6" r="1.3" fill="#ffe88a" fill-opacity="0.9"/>
<circle cx="863.8" cy="901.9" r="14.0" fill="url(#aB)"/>
<circle cx="863.8" cy="901.9" r="14.0" fill="#3a1c00" fill-opacity="0.12"/>
<circle cx="864.2" cy="898.5" r="1.3" fill="#ffe88a" fill-opacity="0.9"/>
<circle cx="829.6" cy="901.9" r="14.0" fill="url(#aB)"/>
<circle cx="829.6" cy="901.9" r="14.0" fill="#3a1c00" fill-opacity="0.12"/>
<circle cx="830.0" cy="898.5" r="1.3" fill="#ffe88a" fill-opacity="0.9"/>
<circle cx="819.6" cy="691.3" r="14.0" fill="url(#aY)"/>
<circle cx="820.0" cy="690.9" r="1.3" fill="#ffe88a" fill-opacity="0.9"/>
<circle cx="805.3" cy="712.2" r="14.0" fill="url(#aY)"/>
<circle cx="805.7" cy="711.5" r="1.3" fill="#ffe88a" fill-opacity="0.9"/>
<circle cx="870.6" cy="712.2" r="14.0" fill="url(#aY)"/>
<circle cx="871.0" cy="711.5" r="1.3" fill="#ffe88a" fill-opacity="0.9"/>
<circle cx="819.1" cy="733.1" r="14.0" fill="url(#aY)"/>
<circle cx="819.5" cy="732.1" r="1.3" fill="#ffe88a" fill-opacity="0.9"/>
<circle cx="805.3" cy="754.0" r="14.0" fill="url(#aY)"/>
<circle cx="805.7" cy="752.7" r="1.3" fill="#ffe88a" fill-opacity="0.9"/>
<circle cx="870.6" cy="754.0" r="14.0" fill="url(#aY)"/>
<circle cx="871.0" cy="752.7" r="1.3" fill="#ffe88a" fill-opacity="0.9"/>
<circle cx="819.1" cy="774.9" r="14.0" fill="url(#aR)"/>
<circle cx="819.5" cy="773.3" r="1.3" fill="#ffe88a" fill-opacity="0.9"/>
<circle cx="805.3" cy="795.6" r="14.0" fill="url(#aR)"/>
<circle cx="805.7" cy="793.7" r="1.3" fill="#ffe88a" fill-opacity="0.9"/>
<circle cx="870.6" cy="795.6" r="14.0" fill="url(#aR)"/>
<circle cx="871.0" cy="793.7" r="1.3" fill="#ffe88a" fill-opacity="0.9"/>
<circle cx="819.1" cy="816.7" r="14.0" fill="url(#aR)"/>
<circle cx="819.5" cy="814.5" r="1.3" fill="#ffe88a" fill-opacity="0.9"/>
<circle cx="805.3" cy="837.9" r="14.0" fill="url(#aY)"/>
<circle cx="805.7" cy="835.4" r="1.3" fill="#ffe88a" fill-opacity="0.9"/>
<circle cx="870.6" cy="837.9" r="14.0" fill="url(#aY)"/>
<circle cx="871.0" cy="835.4" r="1.3" fill="#ffe88a" fill-opacity="0.9"/>
<circle cx="819.1" cy="859.8" r="14.0" fill="url(#aY)"/>
<circle cx="819.5" cy="857.0" r="1.3" fill="#ffe88a" fill-opacity="0.9"/>
<circle cx="805.3" cy="880.7" r="14.0" fill="url(#aY)"/>
<circle cx="805.7" cy="877.6" r="1.3" fill="#ffe88a" fill-opacity="0.9"/>
<circle cx="870.6" cy="880.7" r="14.0" fill="url(#aY)"/>
<circle cx="871.0" cy="877.6" r="1.3" fill="#ffe88a" fill-opacity="0.9"/>
<circle cx="819.1" cy="901.9" r="14.0" fill="url(#aY)"/>
<circle cx="819.5" cy="898.5" r="1.3" fill="#ffe88a" fill-opacity="0.9"/>
<circle cx="847.1" cy="691.3" r="14.0" fill="url(#aY)"/>
<circle cx="847.5" cy="690.9" r="1.3" fill="#ffe88a" fill-opacity="0.9"/>
<circle cx="828.0" cy="712.2" r="14.0" fill="url(#aB)"/>
<circle cx="828.4" cy="711.5" r="1.3" fill="#ffe88a" fill-opacity="0.9"/>
<circle cx="847.1" cy="733.1" r="14.0" fill="url(#aY)"/>
<circle cx="847.5" cy="732.1" r="1.3" fill="#ffe88a" fill-opacity="0.9"/>
<circle cx="828.0" cy="754.0" r="14.0" fill="url(#aB)"/>
<circle cx="828.4" cy="752.7" r="1.3" fill="#ffe88a" fill-opacity="0.9"/>
<circle cx="847.1" cy="774.9" r="14.0" fill="url(#aR)"/>
<circle cx="847.5" cy="773.3" r="1.3" fill="#ffe88a" fill-opacity="0.9"/>
<circle cx="828.0" cy="795.6" r="14.0" fill="url(#aW)"/>
<circle cx="828.4" cy="793.7" r="1.3" fill="#ffe88a" fill-opacity="0.9"/>
<circle cx="847.1" cy="816.7" r="14.0" fill="url(#aR)"/>
<circle cx="847.5" cy="814.5" r="1.3" fill="#ffe88a" fill-opacity="0.9"/>
<circle cx="828.0" cy="837.9" r="14.0" fill="url(#aB)"/>
<circle cx="828.4" cy="835.4" r="1.3" fill="#ffe88a" fill-opacity="0.9"/>
<circle cx="847.1" cy="859.8" r="14.0" fill="url(#aY)"/>
<circle cx="847.5" cy="857.0" r="1.3" fill="#ffe88a" fill-opacity="0.9"/>
<circle cx="828.0" cy="880.7" r="14.0" fill="url(#aB)"/>
<circle cx="828.4" cy="877.6" r="1.3" fill="#ffe88a" fill-opacity="0.9"/>
<circle cx="847.1" cy="901.9" r="14.0" fill="url(#aY)"/>
<circle cx="847.5" cy="898.5" r="1.3" fill="#ffe88a" fill-opacity="0.9"/>
<text x="44.3" y="89.0" font-size="44" text-anchor="start" fill="#000" letter-spacing="1.3">(a)</text>
<text x="691.2" y="86.8" font-size="44" text-anchor="start" fill="#000" letter-spacing="1.3">(b)</text>
<text x="159.3" y="25.3" font-size="34" text-anchor="start" fill="#000" >P(1)</text>
<text x="351.5" y="173.3" font-size="34" text-anchor="start" fill="#000" >P(2)</text>
<text x="946.0" y="58.4" font-size="34" text-anchor="start" fill="#000" >P(1)</text>
<text x="1146.0" y="173.6" font-size="34" text-anchor="start" fill="#000" >P(2)</text>
<text x="26.0" y="229.0" font-size="34.5" text-anchor="start" fill="#000" >40 nm</text>
<text x="26.5" y="533.4" font-size="34.5" text-anchor="start" fill="#000" >12 nm</text>
<text x="26.0" y="821.0" font-size="34.5" text-anchor="start" fill="#000" >4.3 nm</text>
<text x="623.5" y="228.8" font-size="34" text-anchor="start" fill="#000" >bulk</text>
<text x="571.0" y="533.4" font-size="34.2" text-anchor="start" fill="#000" >slab 3.7nm</text>
<text x="571.0" y="821.0" font-size="34.2" text-anchor="start" fill="#000" >slab 1.85nm</text>
<text transform="scale(1.09,1)" font-size="27.98" fill="#2e2e2e"><tspan x="52.84" y="407.7">(</tspan><tspan x="61.65" y="394.5" font-size="16.19">31</tspan><tspan x="79.82" y="407.7">P)</tspan><tspan x="106.97" y="407.7" font-size="29.66" style="font-family:&quot;Liberation Serif&quot;,serif">δ</tspan><tspan x="120.28" y="418.0" font-size="16.79">MAS</tspan><tspan x="156.42" y="407.7" fill="#000">/ppm</tspan></text>
<text transform="scale(1.09,1)" font-size="29.36" fill="#2e2e2e"><tspan x="54.86" y="712.7">(</tspan><tspan x="64.68" y="694.4" font-size="17.11">31</tspan><tspan x="84.68" y="712.7">P)</tspan><tspan x="113.58" y="712.7" font-size="31.12" style="font-family:&quot;Liberation Serif&quot;,serif">δ</tspan><tspan x="126.79" y="725.0" font-size="17.89">MAS/STATIC</tspan><tspan x="232.11" y="712.7" fill="#000">/ppm</tspan></text>
<text transform="scale(1.09,1)" font-size="27.80" fill="#2e2e2e"><tspan x="113.12" y="1013.0">(</tspan><tspan x="123.12" y="999.8" font-size="16.19">31</tspan><tspan x="140.64" y="1013.0">P)</tspan><tspan x="168.44" y="1013.0" font-size="29.47" style="font-family:&quot;Liberation Serif&quot;,serif">δ</tspan><tspan x="181.83" y="1024.5" font-size="17.43">STATIC</tspan><tspan x="241.28" y="1013.0" fill="#000">/ppm</tspan></text>
<text font-size="32.6" fill="#000"><tspan x="808.0" y="1020.4">N(E</tspan><tspan x="863.8" y="1032.2" font-size="18.5">F</tspan><tspan x="875.0" y="1020.4" font-size="33">(</tspan><tspan x="884.6" y="1020.4" font-size="40">P</tspan><tspan x="912.0" y="1020.4" font-size="40">|</tspan><tspan x="922.2" y="1020.4" font-size="36" stroke="#000" stroke-width="0.45">s</tspan><tspan x="942.6" y="1020.4" font-size="38">&gt;</tspan><tspan x="965.4" y="1020.4" font-size="33">)) </tspan><tspan x="996.2" y="1020.4" font-size="32.85">(number of states/eV)</tspan></text>
</svg>
</body></html>
